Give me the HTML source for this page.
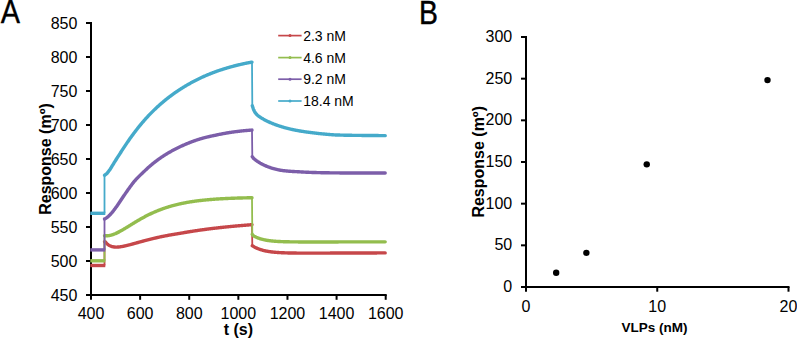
<!DOCTYPE html>
<html><head><meta charset="utf-8"><title>Binding response charts</title>
<style>html,body{margin:0;padding:0;background:#fff;}body{width:797px;height:339px;overflow:hidden;}svg{display:block;}</style>
</head><body>
<svg width="797" height="339" viewBox="0 0 797 339">
<rect width="797" height="339" fill="#fff"/>
<text x="0" y="23.3" font-family="'Liberation Sans', sans-serif" font-size="32.6" transform="translate(0.7,0) scale(0.885,1)" fill="#000" stroke="#000" stroke-width="0.35">A</text>
<text x="0" y="23.7" font-family="'Liberation Sans', sans-serif" font-size="32.8" transform="translate(419.0,0) scale(0.865,1)" fill="#000" stroke="#000" stroke-width="0.45">B</text>
<g stroke="#000" stroke-width="2" fill="none">
<path d="M91.0,22.0 V296.0"/>
<path d="M90.0,295.0 H386.7"/>
<path d="M86,23.00 H91.0"/>
<path d="M86,57.00 H91.0"/>
<path d="M86,91.00 H91.0"/>
<path d="M86,125.00 H91.0"/>
<path d="M86,159.00 H91.0"/>
<path d="M86,193.00 H91.0"/>
<path d="M86,227.00 H91.0"/>
<path d="M86,261.00 H91.0"/>
<path d="M86,295.00 H91.0"/>
<path d="M91.00,295.0 V299.8"/>
<path d="M140.12,295.0 V299.8"/>
<path d="M189.23,295.0 V299.8"/>
<path d="M238.35,295.0 V299.8"/>
<path d="M287.47,295.0 V299.8"/>
<path d="M336.58,295.0 V299.8"/>
<path d="M385.70,295.0 V299.8"/>
</g>
<g font-family="'Liberation Sans', sans-serif" font-size="16" fill="#000">
<text x="77.4" y="28.60" text-anchor="end">850</text>
<text x="77.4" y="62.60" text-anchor="end">800</text>
<text x="77.4" y="96.60" text-anchor="end">750</text>
<text x="77.4" y="130.60" text-anchor="end">700</text>
<text x="77.4" y="164.60" text-anchor="end">650</text>
<text x="77.4" y="198.60" text-anchor="end">600</text>
<text x="77.4" y="232.60" text-anchor="end">550</text>
<text x="77.4" y="266.60" text-anchor="end">500</text>
<text x="77.4" y="300.60" text-anchor="end">450</text>
<text x="91.00" y="318.7" text-anchor="middle">400</text>
<text x="140.12" y="318.7" text-anchor="middle">600</text>
<text x="189.23" y="318.7" text-anchor="middle">800</text>
<text x="238.35" y="318.7" text-anchor="middle">1000</text>
<text x="287.47" y="318.7" text-anchor="middle">1200</text>
<text x="336.58" y="318.7" text-anchor="middle">1400</text>
<text x="385.70" y="318.7" text-anchor="middle">1600</text>
</g>
<text x="238.3" y="335.3" font-family="'Liberation Sans', sans-serif" font-size="16" font-weight="bold" text-anchor="middle">t (s)</text>
<text transform="translate(51.1,159) rotate(-90)" font-family="'Liberation Sans', sans-serif" font-size="16" font-weight="bold" text-anchor="middle">Response (m&#186;)</text>
<path d="M104.50,265.50 L104.50,241.80 L105.00,241.81 L105.50,242.07 L106.00,242.66 L106.50,243.19 L107.00,243.68 L107.50,244.12 L108.00,244.53 L108.50,244.89 L109.00,245.22 L109.50,245.51 L110.00,245.77 L110.50,246.00 L111.00,246.20 L111.50,246.38 L112.00,246.54 L112.50,246.67 L113.00,246.78 L113.50,246.88 L114.00,246.95 L114.50,247.01 L115.00,247.05 L115.50,247.08 L116.00,247.09 L116.50,247.10 L117.00,247.09 L117.50,247.07 L118.00,247.04 L118.50,247.00 L119.00,246.95 L119.50,246.90 L120.00,246.84 L120.50,246.77 L121.00,246.69 L121.50,246.61 L122.00,246.53 L122.50,246.43 L123.00,246.34 L123.50,246.24 L124.00,246.14 L124.50,246.03 L125.00,245.92 L125.50,245.81 L126.00,245.69 L126.50,245.57 L127.00,245.45 L127.50,245.33 L128.00,245.21 L128.50,245.08 L129.00,244.95 L129.50,244.82 L130.00,244.70 L130.50,244.56 L131.00,244.42 L131.50,244.29 L132.00,244.15 L132.50,244.01 L133.00,243.87 L133.50,243.74 L134.00,243.60 L134.50,243.46 L135.00,243.32 L135.50,243.18 L136.00,243.04 L136.50,242.90 L137.00,242.76 L137.50,242.62 L138.00,242.49 L138.50,242.35 L139.00,242.21 L139.50,242.07 L140.00,241.94 L140.50,241.80 L141.00,241.66 L141.50,241.53 L142.00,241.39 L142.50,241.26 L143.00,241.12 L143.50,240.99 L144.00,240.86 L144.50,240.72 L145.00,240.59 L145.50,240.46 L146.00,240.33 L146.50,240.20 L147.00,240.07 L147.50,239.94 L148.00,239.81 L148.50,239.69 L149.00,239.56 L149.50,239.43 L150.00,239.31 L150.50,239.18 L151.00,239.06 L151.50,238.94 L152.00,238.81 L152.50,238.69 L153.00,238.57 L153.50,238.45 L154.00,238.33 L154.50,238.21 L155.00,238.09 L155.50,237.98 L156.00,237.86 L156.50,237.74 L157.00,237.63 L157.50,237.51 L158.00,237.40 L158.50,237.29 L159.00,237.17 L159.50,237.06 L160.00,236.95 L160.50,236.85 L161.00,236.74 L161.50,236.64 L162.00,236.54 L162.50,236.44 L163.00,236.34 L163.50,236.24 L164.00,236.15 L164.50,236.05 L165.00,235.95 L165.50,235.86 L166.00,235.76 L166.50,235.66 L167.00,235.57 L167.50,235.48 L168.00,235.38 L168.50,235.29 L169.00,235.20 L169.50,235.11 L170.00,235.02 L170.50,234.93 L171.00,234.84 L171.50,234.75 L172.00,234.67 L172.50,234.58 L173.00,234.49 L173.50,234.41 L174.00,234.32 L174.50,234.24 L175.00,234.15 L175.50,234.07 L176.00,233.99 L176.50,233.90 L177.00,233.82 L177.50,233.74 L178.00,233.66 L178.50,233.58 L179.00,233.50 L179.50,233.42 L180.00,233.34 L180.50,233.25 L181.00,233.16 L181.50,233.07 L182.00,232.99 L182.50,232.90 L183.00,232.81 L183.50,232.72 L184.00,232.63 L184.50,232.55 L185.00,232.46 L185.50,232.38 L186.00,232.29 L186.50,232.21 L187.00,232.12 L187.50,232.04 L188.00,231.96 L188.50,231.88 L189.00,231.80 L189.50,231.71 L190.00,231.63 L190.50,231.55 L191.00,231.47 L191.50,231.39 L192.00,231.32 L192.50,231.24 L193.00,231.16 L193.50,231.08 L194.00,231.01 L194.50,230.93 L195.00,230.85 L195.50,230.78 L196.00,230.70 L196.50,230.63 L197.00,230.56 L197.50,230.48 L198.00,230.41 L198.50,230.34 L199.00,230.27 L199.50,230.19 L200.00,230.12 L200.50,230.05 L201.00,229.98 L201.50,229.91 L202.00,229.84 L202.50,229.77 L203.00,229.71 L203.50,229.64 L204.00,229.57 L204.50,229.50 L205.00,229.44 L205.50,229.37 L206.00,229.30 L206.50,229.24 L207.00,229.17 L207.50,229.11 L208.00,229.04 L208.50,228.98 L209.00,228.92 L209.50,228.85 L210.00,228.79 L210.50,228.73 L211.00,228.67 L211.50,228.60 L212.00,228.54 L212.50,228.48 L213.00,228.42 L213.50,228.36 L214.00,228.30 L214.50,228.24 L215.00,228.18 L215.50,228.12 L216.00,228.07 L216.50,228.01 L217.00,227.95 L217.50,227.89 L218.00,227.84 L218.50,227.78 L219.00,227.72 L219.50,227.67 L220.00,227.61 L220.50,227.56 L221.00,227.50 L221.50,227.45 L222.00,227.40 L222.50,227.34 L223.00,227.29 L223.50,227.24 L224.00,227.18 L224.50,227.13 L225.00,227.08 L225.50,227.03 L226.00,226.97 L226.50,226.92 L227.00,226.87 L227.50,226.82 L228.00,226.77 L228.50,226.72 L229.00,226.67 L229.50,226.62 L230.00,226.57 L230.50,226.53 L231.00,226.48 L231.50,226.43 L232.00,226.38 L232.50,226.33 L233.00,226.29 L233.50,226.24 L234.00,226.19 L234.50,226.15 L235.00,226.10 L235.50,226.06 L236.00,226.01 L236.50,225.97 L237.00,225.92 L237.50,225.88 L238.00,225.83 L238.50,225.79 L239.00,225.74 L239.50,225.70 L240.00,225.66 L240.50,225.61 L241.00,225.57 L241.50,225.53 L242.00,225.49 L242.50,225.45 L243.00,225.40 L243.50,225.36 L244.00,225.32 L244.50,225.28 L245.00,225.24 L245.50,225.20 L246.00,225.16 L246.50,225.12 L247.00,225.08 L247.50,225.04 L248.00,225.00 L248.50,224.96 L249.00,224.92 L249.50,224.89 L250.00,224.85 L250.50,224.81 L251.00,224.77 L251.50,224.73 L252.00,224.70 L252.30,245.75 L252.80,246.00 L253.30,246.31 L253.80,246.60 L254.30,246.89 L254.80,247.16 L255.30,247.42 L255.80,247.67 L256.30,247.91 L256.80,248.14 L257.30,248.37 L257.80,248.58 L258.30,248.78 L258.80,248.98 L259.30,249.16 L259.80,249.34 L260.30,249.52 L260.80,249.68 L261.30,249.84 L261.80,249.99 L262.30,250.13 L262.80,250.27 L263.30,250.40 L263.80,250.53 L264.30,250.65 L264.80,250.77 L265.30,250.88 L265.80,250.98 L266.30,251.08 L266.80,251.18 L267.30,251.27 L267.80,251.36 L268.30,251.45 L268.80,251.53 L269.30,251.60 L269.80,251.68 L270.30,251.75 L270.80,251.81 L271.30,251.88 L271.80,251.94 L272.30,252.00 L272.80,252.05 L273.30,252.11 L273.80,252.16 L274.30,252.21 L274.80,252.25 L275.30,252.30 L275.80,252.34 L276.30,252.38 L276.80,252.42 L277.30,252.45 L277.80,252.49 L278.30,252.52 L278.80,252.55 L279.30,252.58 L279.80,252.61 L280.30,252.64 L280.80,252.67 L281.30,252.69 L281.80,252.71 L282.30,252.74 L282.80,252.76 L283.30,252.78 L283.80,252.80 L284.30,252.82 L284.80,252.84 L285.30,252.85 L285.80,252.87 L286.30,252.88 L286.80,252.90 L287.30,252.91 L287.80,252.93 L288.30,252.94 L288.80,252.95 L289.30,252.96 L289.80,252.97 L290.30,252.98 L290.80,252.99 L291.30,253.00 L291.80,253.01 L292.30,253.02 L292.80,253.03 L293.30,253.03 L293.80,253.04 L294.30,253.05 L294.80,253.06 L295.30,253.06 L295.80,253.07 L296.30,253.07 L296.80,253.08 L297.30,253.08 L297.80,253.09 L298.30,253.09 L298.80,253.10 L299.30,253.10 L299.80,253.10 L300.30,253.10 L300.80,253.10 L301.30,253.11 L301.80,253.11 L302.30,253.11 L302.80,253.11 L303.30,253.11 L303.80,253.11 L304.30,253.11 L304.80,253.12 L305.30,253.12 L305.80,253.12 L306.30,253.12 L306.80,253.12 L307.30,253.12 L307.80,253.12 L308.30,253.12 L308.80,253.12 L309.30,253.12 L309.80,253.12 L310.30,253.12 L310.80,253.12 L311.30,253.12 L311.80,253.12 L312.30,253.12 L312.80,253.11 L313.30,253.11 L313.80,253.11 L314.30,253.11 L314.80,253.11 L315.30,253.11 L315.80,253.11 L316.30,253.11 L316.80,253.11 L317.30,253.11 L317.80,253.11 L318.30,253.11 L318.80,253.10 L319.30,253.10 L319.80,253.10 L320.30,253.10 L320.80,253.10 L321.30,253.10 L321.80,253.10 L322.30,253.10 L322.80,253.10 L323.30,253.09 L323.80,253.09 L324.30,253.09 L324.80,253.09 L325.30,253.09 L325.80,253.09 L326.30,253.09 L326.80,253.08 L327.30,253.08 L327.80,253.08 L328.30,253.08 L328.80,253.08 L329.30,253.08 L329.80,253.08 L330.30,253.07 L330.80,253.07 L331.30,253.07 L331.80,253.07 L332.30,253.07 L332.80,253.07 L333.30,253.07 L333.80,253.06 L334.30,253.06 L334.80,253.06 L335.30,253.06 L335.80,253.06 L336.30,253.06 L336.80,253.06 L337.30,253.05 L337.80,253.05 L338.30,253.05 L338.80,253.05 L339.30,253.05 L339.80,253.05 L340.30,253.04 L340.80,253.04 L341.30,253.04 L341.80,253.04 L342.30,253.04 L342.80,253.04 L343.30,253.03 L343.80,253.03 L344.30,253.03 L344.80,253.03 L345.30,253.03 L345.80,253.03 L346.30,253.03 L346.80,253.02 L347.30,253.02 L347.80,253.02 L348.30,253.02 L348.80,253.02 L349.30,253.02 L349.80,253.01 L350.30,253.01 L350.80,253.01 L351.30,253.01 L351.80,253.01 L352.30,253.01 L352.80,253.00 L353.30,253.00 L353.80,253.00 L354.30,253.00 L354.80,253.00 L355.30,253.00 L355.80,252.99 L356.30,252.99 L356.80,252.99 L357.30,252.99 L357.80,252.99 L358.30,252.99 L358.80,252.98 L359.30,252.98 L359.80,252.98 L360.30,252.98 L360.80,252.98 L361.30,252.98 L361.80,252.98 L362.30,252.97 L362.80,252.97 L363.30,252.97 L363.80,252.97 L364.30,252.97 L364.80,252.97 L365.30,252.96 L365.80,252.96 L366.30,252.96 L366.80,252.96 L367.30,252.96 L367.80,252.96 L368.30,252.95 L368.80,252.95 L369.30,252.95 L369.80,252.95 L370.30,252.95 L370.80,252.95 L371.30,252.94 L371.80,252.94 L372.30,252.94 L372.80,252.94 L373.30,252.94 L373.80,252.94 L374.30,252.93 L374.80,252.93 L375.30,252.93 L375.80,252.93 L376.30,252.93 L376.80,252.93 L377.30,252.92 L377.80,252.92 L378.30,252.92 L378.80,252.92 L379.30,252.92 L379.80,252.92 L380.30,252.91 L380.80,252.91 L381.30,252.91 L381.80,252.91 L382.30,252.91 L382.80,252.91 L383.30,252.91 L383.80,252.90 L384.30,252.90 L384.80,252.90 L385.20,252.90" fill="none" stroke="#C6474A" stroke-width="1.8" stroke-linejoin="round"/>
<path d="M90.30,265.50 L105.30,265.50" fill="none" stroke="#C6474A" stroke-width="3.4" stroke-linejoin="round" stroke-linecap="butt"/>
<path d="M104.50,241.80 L105.00,241.81 L105.50,242.07 L106.00,242.66 L106.50,243.19 L107.00,243.68 L107.50,244.12 L108.00,244.53 L108.50,244.89 L109.00,245.22 L109.50,245.51 L110.00,245.77 L110.50,246.00 L111.00,246.20 L111.50,246.38 L112.00,246.54 L112.50,246.67 L113.00,246.78 L113.50,246.88 L114.00,246.95 L114.50,247.01 L115.00,247.05 L115.50,247.08 L116.00,247.09 L116.50,247.10 L117.00,247.09 L117.50,247.07 L118.00,247.04 L118.50,247.00 L119.00,246.95 L119.50,246.90 L120.00,246.84 L120.50,246.77 L121.00,246.69 L121.50,246.61 L122.00,246.53 L122.50,246.43 L123.00,246.34 L123.50,246.24 L124.00,246.14 L124.50,246.03 L125.00,245.92 L125.50,245.81 L126.00,245.69 L126.50,245.57 L127.00,245.45 L127.50,245.33 L128.00,245.21 L128.50,245.08 L129.00,244.95 L129.50,244.82 L130.00,244.70 L130.50,244.56 L131.00,244.42 L131.50,244.29 L132.00,244.15 L132.50,244.01 L133.00,243.87 L133.50,243.74 L134.00,243.60 L134.50,243.46 L135.00,243.32 L135.50,243.18 L136.00,243.04 L136.50,242.90 L137.00,242.76 L137.50,242.62 L138.00,242.49 L138.50,242.35 L139.00,242.21 L139.50,242.07 L140.00,241.94 L140.50,241.80 L141.00,241.66 L141.50,241.53 L142.00,241.39 L142.50,241.26 L143.00,241.12 L143.50,240.99 L144.00,240.86 L144.50,240.72 L145.00,240.59 L145.50,240.46 L146.00,240.33 L146.50,240.20 L147.00,240.07 L147.50,239.94 L148.00,239.81 L148.50,239.69 L149.00,239.56 L149.50,239.43 L150.00,239.31 L150.50,239.18 L151.00,239.06 L151.50,238.94 L152.00,238.81 L152.50,238.69 L153.00,238.57 L153.50,238.45 L154.00,238.33 L154.50,238.21 L155.00,238.09 L155.50,237.98 L156.00,237.86 L156.50,237.74 L157.00,237.63 L157.50,237.51 L158.00,237.40 L158.50,237.29 L159.00,237.17 L159.50,237.06 L160.00,236.95 L160.50,236.85 L161.00,236.74 L161.50,236.64 L162.00,236.54 L162.50,236.44 L163.00,236.34 L163.50,236.24 L164.00,236.15 L164.50,236.05 L165.00,235.95 L165.50,235.86 L166.00,235.76 L166.50,235.66 L167.00,235.57 L167.50,235.48 L168.00,235.38 L168.50,235.29 L169.00,235.20 L169.50,235.11 L170.00,235.02 L170.50,234.93 L171.00,234.84 L171.50,234.75 L172.00,234.67 L172.50,234.58 L173.00,234.49 L173.50,234.41 L174.00,234.32 L174.50,234.24 L175.00,234.15 L175.50,234.07 L176.00,233.99 L176.50,233.90 L177.00,233.82 L177.50,233.74 L178.00,233.66 L178.50,233.58 L179.00,233.50 L179.50,233.42 L180.00,233.34 L180.50,233.25 L181.00,233.16 L181.50,233.07 L182.00,232.99 L182.50,232.90 L183.00,232.81 L183.50,232.72 L184.00,232.63 L184.50,232.55 L185.00,232.46 L185.50,232.38 L186.00,232.29 L186.50,232.21 L187.00,232.12 L187.50,232.04 L188.00,231.96 L188.50,231.88 L189.00,231.80 L189.50,231.71 L190.00,231.63 L190.50,231.55 L191.00,231.47 L191.50,231.39 L192.00,231.32 L192.50,231.24 L193.00,231.16 L193.50,231.08 L194.00,231.01 L194.50,230.93 L195.00,230.85 L195.50,230.78 L196.00,230.70 L196.50,230.63 L197.00,230.56 L197.50,230.48 L198.00,230.41 L198.50,230.34 L199.00,230.27 L199.50,230.19 L200.00,230.12 L200.50,230.05 L201.00,229.98 L201.50,229.91 L202.00,229.84 L202.50,229.77 L203.00,229.71 L203.50,229.64 L204.00,229.57 L204.50,229.50 L205.00,229.44 L205.50,229.37 L206.00,229.30 L206.50,229.24 L207.00,229.17 L207.50,229.11 L208.00,229.04 L208.50,228.98 L209.00,228.92 L209.50,228.85 L210.00,228.79 L210.50,228.73 L211.00,228.67 L211.50,228.60 L212.00,228.54 L212.50,228.48 L213.00,228.42 L213.50,228.36 L214.00,228.30 L214.50,228.24 L215.00,228.18 L215.50,228.12 L216.00,228.07 L216.50,228.01 L217.00,227.95 L217.50,227.89 L218.00,227.84 L218.50,227.78 L219.00,227.72 L219.50,227.67 L220.00,227.61 L220.50,227.56 L221.00,227.50 L221.50,227.45 L222.00,227.40 L222.50,227.34 L223.00,227.29 L223.50,227.24 L224.00,227.18 L224.50,227.13 L225.00,227.08 L225.50,227.03 L226.00,226.97 L226.50,226.92 L227.00,226.87 L227.50,226.82 L228.00,226.77 L228.50,226.72 L229.00,226.67 L229.50,226.62 L230.00,226.57 L230.50,226.53 L231.00,226.48 L231.50,226.43 L232.00,226.38 L232.50,226.33 L233.00,226.29 L233.50,226.24 L234.00,226.19 L234.50,226.15 L235.00,226.10 L235.50,226.06 L236.00,226.01 L236.50,225.97 L237.00,225.92 L237.50,225.88 L238.00,225.83 L238.50,225.79 L239.00,225.74 L239.50,225.70 L240.00,225.66 L240.50,225.61 L241.00,225.57 L241.50,225.53 L242.00,225.49 L242.50,225.45 L243.00,225.40 L243.50,225.36 L244.00,225.32 L244.50,225.28 L245.00,225.24 L245.50,225.20 L246.00,225.16 L246.50,225.12 L247.00,225.08 L247.50,225.04 L248.00,225.00 L248.50,224.96 L249.00,224.92 L249.50,224.89 L250.00,224.85 L250.50,224.81 L251.00,224.77 L251.50,224.73 L252.00,224.70" fill="none" stroke="#C6474A" stroke-width="3.4" stroke-linejoin="round" stroke-linecap="round"/>
<path d="M252.30,245.75 L252.80,246.00 L253.30,246.31 L253.80,246.60 L254.30,246.89 L254.80,247.16 L255.30,247.42 L255.80,247.67 L256.30,247.91 L256.80,248.14 L257.30,248.37 L257.80,248.58 L258.30,248.78 L258.80,248.98 L259.30,249.16 L259.80,249.34 L260.30,249.52 L260.80,249.68 L261.30,249.84 L261.80,249.99 L262.30,250.13 L262.80,250.27 L263.30,250.40 L263.80,250.53 L264.30,250.65 L264.80,250.77 L265.30,250.88 L265.80,250.98 L266.30,251.08 L266.80,251.18 L267.30,251.27 L267.80,251.36 L268.30,251.45 L268.80,251.53 L269.30,251.60 L269.80,251.68 L270.30,251.75 L270.80,251.81 L271.30,251.88 L271.80,251.94 L272.30,252.00 L272.80,252.05 L273.30,252.11 L273.80,252.16 L274.30,252.21 L274.80,252.25 L275.30,252.30 L275.80,252.34 L276.30,252.38 L276.80,252.42 L277.30,252.45 L277.80,252.49 L278.30,252.52 L278.80,252.55 L279.30,252.58 L279.80,252.61 L280.30,252.64 L280.80,252.67 L281.30,252.69 L281.80,252.71 L282.30,252.74 L282.80,252.76 L283.30,252.78 L283.80,252.80 L284.30,252.82 L284.80,252.84 L285.30,252.85 L285.80,252.87 L286.30,252.88 L286.80,252.90 L287.30,252.91 L287.80,252.93 L288.30,252.94 L288.80,252.95 L289.30,252.96 L289.80,252.97 L290.30,252.98 L290.80,252.99 L291.30,253.00 L291.80,253.01 L292.30,253.02 L292.80,253.03 L293.30,253.03 L293.80,253.04 L294.30,253.05 L294.80,253.06 L295.30,253.06 L295.80,253.07 L296.30,253.07 L296.80,253.08 L297.30,253.08 L297.80,253.09 L298.30,253.09 L298.80,253.10 L299.30,253.10 L299.80,253.10 L300.30,253.10 L300.80,253.10 L301.30,253.11 L301.80,253.11 L302.30,253.11 L302.80,253.11 L303.30,253.11 L303.80,253.11 L304.30,253.11 L304.80,253.12 L305.30,253.12 L305.80,253.12 L306.30,253.12 L306.80,253.12 L307.30,253.12 L307.80,253.12 L308.30,253.12 L308.80,253.12 L309.30,253.12 L309.80,253.12 L310.30,253.12 L310.80,253.12 L311.30,253.12 L311.80,253.12 L312.30,253.12 L312.80,253.11 L313.30,253.11 L313.80,253.11 L314.30,253.11 L314.80,253.11 L315.30,253.11 L315.80,253.11 L316.30,253.11 L316.80,253.11 L317.30,253.11 L317.80,253.11 L318.30,253.11 L318.80,253.10 L319.30,253.10 L319.80,253.10 L320.30,253.10 L320.80,253.10 L321.30,253.10 L321.80,253.10 L322.30,253.10 L322.80,253.10 L323.30,253.09 L323.80,253.09 L324.30,253.09 L324.80,253.09 L325.30,253.09 L325.80,253.09 L326.30,253.09 L326.80,253.08 L327.30,253.08 L327.80,253.08 L328.30,253.08 L328.80,253.08 L329.30,253.08 L329.80,253.08 L330.30,253.07 L330.80,253.07 L331.30,253.07 L331.80,253.07 L332.30,253.07 L332.80,253.07 L333.30,253.07 L333.80,253.06 L334.30,253.06 L334.80,253.06 L335.30,253.06 L335.80,253.06 L336.30,253.06 L336.80,253.06 L337.30,253.05 L337.80,253.05 L338.30,253.05 L338.80,253.05 L339.30,253.05 L339.80,253.05 L340.30,253.04 L340.80,253.04 L341.30,253.04 L341.80,253.04 L342.30,253.04 L342.80,253.04 L343.30,253.03 L343.80,253.03 L344.30,253.03 L344.80,253.03 L345.30,253.03 L345.80,253.03 L346.30,253.03 L346.80,253.02 L347.30,253.02 L347.80,253.02 L348.30,253.02 L348.80,253.02 L349.30,253.02 L349.80,253.01 L350.30,253.01 L350.80,253.01 L351.30,253.01 L351.80,253.01 L352.30,253.01 L352.80,253.00 L353.30,253.00 L353.80,253.00 L354.30,253.00 L354.80,253.00 L355.30,253.00 L355.80,252.99 L356.30,252.99 L356.80,252.99 L357.30,252.99 L357.80,252.99 L358.30,252.99 L358.80,252.98 L359.30,252.98 L359.80,252.98 L360.30,252.98 L360.80,252.98 L361.30,252.98 L361.80,252.98 L362.30,252.97 L362.80,252.97 L363.30,252.97 L363.80,252.97 L364.30,252.97 L364.80,252.97 L365.30,252.96 L365.80,252.96 L366.30,252.96 L366.80,252.96 L367.30,252.96 L367.80,252.96 L368.30,252.95 L368.80,252.95 L369.30,252.95 L369.80,252.95 L370.30,252.95 L370.80,252.95 L371.30,252.94 L371.80,252.94 L372.30,252.94 L372.80,252.94 L373.30,252.94 L373.80,252.94 L374.30,252.93 L374.80,252.93 L375.30,252.93 L375.80,252.93 L376.30,252.93 L376.80,252.93 L377.30,252.92 L377.80,252.92 L378.30,252.92 L378.80,252.92 L379.30,252.92 L379.80,252.92 L380.30,252.91 L380.80,252.91 L381.30,252.91 L381.80,252.91 L382.30,252.91 L382.80,252.91 L383.30,252.91 L383.80,252.90 L384.30,252.90 L384.80,252.90 L385.20,252.90" fill="none" stroke="#C6474A" stroke-width="3.4" stroke-linejoin="round" stroke-linecap="round"/>
<path d="M104.50,260.80 L104.50,235.67 L105.00,235.67 L105.50,235.70 L106.00,235.74 L106.50,235.76 L107.00,235.76 L107.50,235.74 L108.00,235.70 L108.50,235.65 L109.00,235.58 L109.50,235.50 L110.00,235.40 L110.50,235.29 L111.00,235.17 L111.50,235.04 L112.00,234.89 L112.50,234.73 L113.00,234.56 L113.50,234.38 L114.00,234.19 L114.50,233.99 L115.00,233.79 L115.50,233.57 L116.00,233.35 L116.50,233.12 L117.00,232.88 L117.50,232.64 L118.00,232.39 L118.50,232.14 L119.00,231.88 L119.50,231.61 L120.00,231.34 L120.50,231.07 L121.00,230.79 L121.50,230.51 L122.00,230.22 L122.50,229.94 L123.00,229.65 L123.50,229.35 L124.00,229.06 L124.50,228.76 L125.00,228.46 L125.50,228.16 L126.00,227.86 L126.50,227.55 L127.00,227.25 L127.50,226.94 L128.00,226.64 L128.50,226.33 L129.00,226.02 L129.50,225.72 L130.00,225.41 L130.50,225.10 L131.00,224.79 L131.50,224.48 L132.00,224.17 L132.50,223.86 L133.00,223.55 L133.50,223.25 L134.00,222.94 L134.50,222.63 L135.00,222.33 L135.50,222.03 L136.00,221.73 L136.50,221.43 L137.00,221.13 L137.50,220.83 L138.00,220.54 L138.50,220.24 L139.00,219.95 L139.50,219.66 L140.00,219.38 L140.50,219.09 L141.00,218.81 L141.50,218.53 L142.00,218.25 L142.50,217.97 L143.00,217.70 L143.50,217.42 L144.00,217.15 L144.50,216.89 L145.00,216.62 L145.50,216.36 L146.00,216.10 L146.50,215.84 L147.00,215.58 L147.50,215.33 L148.00,215.08 L148.50,214.83 L149.00,214.59 L149.50,214.34 L150.00,214.10 L150.50,213.86 L151.00,213.63 L151.50,213.39 L152.00,213.16 L152.50,212.94 L153.00,212.71 L153.50,212.49 L154.00,212.27 L154.50,212.05 L155.00,211.83 L155.50,211.62 L156.00,211.41 L156.50,211.20 L157.00,210.99 L157.50,210.79 L158.00,210.59 L158.50,210.39 L159.00,210.20 L159.50,210.00 L160.00,209.81 L160.50,209.62 L161.00,209.43 L161.50,209.25 L162.00,209.06 L162.50,208.88 L163.00,208.70 L163.50,208.52 L164.00,208.35 L164.50,208.17 L165.00,208.00 L165.50,207.83 L166.00,207.67 L166.50,207.50 L167.00,207.34 L167.50,207.18 L168.00,207.03 L168.50,206.87 L169.00,206.72 L169.50,206.57 L170.00,206.42 L170.50,206.27 L171.00,206.13 L171.50,205.98 L172.00,205.84 L172.50,205.70 L173.00,205.57 L173.50,205.43 L174.00,205.30 L174.50,205.17 L175.00,205.04 L175.50,204.91 L176.00,204.79 L176.50,204.66 L177.00,204.54 L177.50,204.42 L178.00,204.30 L178.50,204.19 L179.00,204.07 L179.50,203.96 L180.00,203.85 L180.50,203.74 L181.00,203.63 L181.50,203.52 L182.00,203.42 L182.50,203.31 L183.00,203.21 L183.50,203.11 L184.00,203.01 L184.50,202.92 L185.00,202.82 L185.50,202.73 L186.00,202.63 L186.50,202.54 L187.00,202.45 L187.50,202.36 L188.00,202.28 L188.50,202.19 L189.00,202.11 L189.50,202.02 L190.00,201.94 L190.50,201.86 L191.00,201.78 L191.50,201.71 L192.00,201.63 L192.50,201.55 L193.00,201.48 L193.50,201.41 L194.00,201.33 L194.50,201.26 L195.00,201.19 L195.50,201.12 L196.00,201.06 L196.50,200.99 L197.00,200.93 L197.50,200.86 L198.00,200.80 L198.50,200.74 L199.00,200.68 L199.50,200.62 L200.00,200.56 L200.50,200.50 L201.00,200.44 L201.50,200.38 L202.00,200.33 L202.50,200.27 L203.00,200.22 L203.50,200.17 L204.00,200.12 L204.50,200.07 L205.00,200.02 L205.50,199.97 L206.00,199.92 L206.50,199.87 L207.00,199.82 L207.50,199.78 L208.00,199.73 L208.50,199.69 L209.00,199.64 L209.50,199.60 L210.00,199.56 L210.50,199.52 L211.00,199.48 L211.50,199.44 L212.00,199.40 L212.50,199.36 L213.00,199.32 L213.50,199.28 L214.00,199.25 L214.50,199.21 L215.00,199.17 L215.50,199.14 L216.00,199.10 L216.50,199.07 L217.00,199.04 L217.50,199.00 L218.00,198.97 L218.50,198.94 L219.00,198.91 L219.50,198.88 L220.00,198.85 L220.50,198.82 L221.00,198.79 L221.50,198.76 L222.00,198.73 L222.50,198.71 L223.00,198.68 L223.50,198.65 L224.00,198.63 L224.50,198.60 L225.00,198.58 L225.50,198.55 L226.00,198.53 L226.50,198.50 L227.00,198.48 L227.50,198.46 L228.00,198.44 L228.50,198.41 L229.00,198.39 L229.50,198.37 L230.00,198.35 L230.50,198.33 L231.00,198.31 L231.50,198.29 L232.00,198.27 L232.50,198.25 L233.00,198.23 L233.50,198.21 L234.00,198.19 L234.50,198.18 L235.00,198.16 L235.50,198.14 L236.00,198.12 L236.50,198.11 L237.00,198.09 L237.50,198.07 L238.00,198.06 L238.50,198.04 L239.00,198.03 L239.50,198.01 L240.00,198.00 L240.50,197.98 L241.00,197.97 L241.50,197.96 L242.00,197.94 L242.50,197.93 L243.00,197.92 L243.50,197.90 L244.00,197.89 L244.50,197.88 L245.00,197.87 L245.50,197.85 L246.00,197.84 L246.50,197.83 L247.00,197.82 L247.50,197.81 L248.00,197.80 L248.50,197.79 L249.00,197.77 L249.50,197.76 L250.00,197.75 L250.50,197.74 L251.00,197.73 L251.50,197.72 L252.00,197.72 L252.30,234.40 L252.80,235.10 L253.30,235.64 L253.80,235.94 L254.30,236.23 L254.80,236.50 L255.30,236.76 L255.80,237.01 L256.30,237.25 L256.80,237.47 L257.30,237.68 L257.80,237.89 L258.30,238.08 L258.80,238.27 L259.30,238.45 L259.80,238.62 L260.30,238.78 L260.80,238.93 L261.30,239.08 L261.80,239.21 L262.30,239.35 L262.80,239.47 L263.30,239.59 L263.80,239.71 L264.30,239.82 L264.80,239.92 L265.30,240.02 L265.80,240.12 L266.30,240.21 L266.80,240.29 L267.30,240.38 L267.80,240.45 L268.30,240.53 L268.80,240.60 L269.30,240.67 L269.80,240.73 L270.30,240.79 L270.80,240.85 L271.30,240.91 L271.80,240.96 L272.30,241.01 L272.80,241.06 L273.30,241.11 L273.80,241.15 L274.30,241.19 L274.80,241.23 L275.30,241.27 L275.80,241.30 L276.30,241.34 L276.80,241.37 L277.30,241.40 L277.80,241.43 L278.30,241.46 L278.80,241.49 L279.30,241.51 L279.80,241.54 L280.30,241.56 L280.80,241.58 L281.30,241.60 L281.80,241.62 L282.30,241.64 L282.80,241.66 L283.30,241.68 L283.80,241.69 L284.30,241.71 L284.80,241.72 L285.30,241.74 L285.80,241.75 L286.30,241.76 L286.80,241.77 L287.30,241.78 L287.80,241.80 L288.30,241.81 L288.80,241.82 L289.30,241.82 L289.80,241.83 L290.30,241.84 L290.80,241.85 L291.30,241.86 L291.80,241.86 L292.30,241.87 L292.80,241.88 L293.30,241.88 L293.80,241.89 L294.30,241.89 L294.80,241.90 L295.30,241.90 L295.80,241.91 L296.30,241.91 L296.80,241.92 L297.30,241.92 L297.80,241.92 L298.30,241.93 L298.80,241.93 L299.30,241.93 L299.80,241.93 L300.30,241.94 L300.80,241.94 L301.30,241.94 L301.80,241.94 L302.30,241.95 L302.80,241.95 L303.30,241.95 L303.80,241.95 L304.30,241.95 L304.80,241.95 L305.30,241.95 L305.80,241.95 L306.30,241.96 L306.80,241.96 L307.30,241.96 L307.80,241.96 L308.30,241.96 L308.80,241.96 L309.30,241.96 L309.80,241.96 L310.30,241.96 L310.80,241.96 L311.30,241.96 L311.80,241.96 L312.30,241.96 L312.80,241.96 L313.30,241.96 L313.80,241.96 L314.30,241.96 L314.80,241.96 L315.30,241.96 L315.80,241.96 L316.30,241.96 L316.80,241.96 L317.30,241.96 L317.80,241.96 L318.30,241.96 L318.80,241.96 L319.30,241.96 L319.80,241.96 L320.30,241.96 L320.80,241.96 L321.30,241.95 L321.80,241.95 L322.30,241.95 L322.80,241.95 L323.30,241.95 L323.80,241.95 L324.30,241.95 L324.80,241.95 L325.30,241.95 L325.80,241.95 L326.30,241.95 L326.80,241.95 L327.30,241.95 L327.80,241.95 L328.30,241.94 L328.80,241.94 L329.30,241.94 L329.80,241.94 L330.30,241.94 L330.80,241.94 L331.30,241.94 L331.80,241.94 L332.30,241.94 L332.80,241.94 L333.30,241.94 L333.80,241.93 L334.30,241.93 L334.80,241.93 L335.30,241.93 L335.80,241.93 L336.30,241.93 L336.80,241.93 L337.30,241.93 L337.80,241.93 L338.30,241.93 L338.80,241.92 L339.30,241.92 L339.80,241.92 L340.30,241.92 L340.80,241.92 L341.30,241.92 L341.80,241.92 L342.30,241.92 L342.80,241.92 L343.30,241.92 L343.80,241.91 L344.30,241.91 L344.80,241.91 L345.30,241.91 L345.80,241.91 L346.30,241.91 L346.80,241.91 L347.30,241.91 L347.80,241.91 L348.30,241.91 L348.80,241.90 L349.30,241.90 L349.80,241.90 L350.30,241.90 L350.80,241.90 L351.30,241.90 L351.80,241.90 L352.30,241.90 L352.80,241.90 L353.30,241.89 L353.80,241.89 L354.30,241.89 L354.80,241.89 L355.30,241.89 L355.80,241.89 L356.30,241.89 L356.80,241.89 L357.30,241.89 L357.80,241.89 L358.30,241.88 L358.80,241.88 L359.30,241.88 L359.80,241.88 L360.30,241.88 L360.80,241.88 L361.30,241.88 L361.80,241.88 L362.30,241.88 L362.80,241.87 L363.30,241.87 L363.80,241.87 L364.30,241.87 L364.80,241.87 L365.30,241.87 L365.80,241.87 L366.30,241.87 L366.80,241.87 L367.30,241.86 L367.80,241.86 L368.30,241.86 L368.80,241.86 L369.30,241.86 L369.80,241.86 L370.30,241.86 L370.80,241.86 L371.30,241.86 L371.80,241.85 L372.30,241.85 L372.80,241.85 L373.30,241.85 L373.80,241.85 L374.30,241.85 L374.80,241.85 L375.30,241.85 L375.80,241.85 L376.30,241.85 L376.80,241.84 L377.30,241.84 L377.80,241.84 L378.30,241.84 L378.80,241.84 L379.30,241.84 L379.80,241.84 L380.30,241.84 L380.80,241.84 L381.30,241.83 L381.80,241.83 L382.30,241.83 L382.80,241.83 L383.30,241.83 L383.80,241.83 L384.30,241.83 L384.80,241.83 L385.20,241.83" fill="none" stroke="#93BD4E" stroke-width="1.8" stroke-linejoin="round"/>
<path d="M90.30,260.80 L105.30,260.80" fill="none" stroke="#93BD4E" stroke-width="3.4" stroke-linejoin="round" stroke-linecap="butt"/>
<path d="M104.50,235.67 L105.00,235.67 L105.50,235.70 L106.00,235.74 L106.50,235.76 L107.00,235.76 L107.50,235.74 L108.00,235.70 L108.50,235.65 L109.00,235.58 L109.50,235.50 L110.00,235.40 L110.50,235.29 L111.00,235.17 L111.50,235.04 L112.00,234.89 L112.50,234.73 L113.00,234.56 L113.50,234.38 L114.00,234.19 L114.50,233.99 L115.00,233.79 L115.50,233.57 L116.00,233.35 L116.50,233.12 L117.00,232.88 L117.50,232.64 L118.00,232.39 L118.50,232.14 L119.00,231.88 L119.50,231.61 L120.00,231.34 L120.50,231.07 L121.00,230.79 L121.50,230.51 L122.00,230.22 L122.50,229.94 L123.00,229.65 L123.50,229.35 L124.00,229.06 L124.50,228.76 L125.00,228.46 L125.50,228.16 L126.00,227.86 L126.50,227.55 L127.00,227.25 L127.50,226.94 L128.00,226.64 L128.50,226.33 L129.00,226.02 L129.50,225.72 L130.00,225.41 L130.50,225.10 L131.00,224.79 L131.50,224.48 L132.00,224.17 L132.50,223.86 L133.00,223.55 L133.50,223.25 L134.00,222.94 L134.50,222.63 L135.00,222.33 L135.50,222.03 L136.00,221.73 L136.50,221.43 L137.00,221.13 L137.50,220.83 L138.00,220.54 L138.50,220.24 L139.00,219.95 L139.50,219.66 L140.00,219.38 L140.50,219.09 L141.00,218.81 L141.50,218.53 L142.00,218.25 L142.50,217.97 L143.00,217.70 L143.50,217.42 L144.00,217.15 L144.50,216.89 L145.00,216.62 L145.50,216.36 L146.00,216.10 L146.50,215.84 L147.00,215.58 L147.50,215.33 L148.00,215.08 L148.50,214.83 L149.00,214.59 L149.50,214.34 L150.00,214.10 L150.50,213.86 L151.00,213.63 L151.50,213.39 L152.00,213.16 L152.50,212.94 L153.00,212.71 L153.50,212.49 L154.00,212.27 L154.50,212.05 L155.00,211.83 L155.50,211.62 L156.00,211.41 L156.50,211.20 L157.00,210.99 L157.50,210.79 L158.00,210.59 L158.50,210.39 L159.00,210.20 L159.50,210.00 L160.00,209.81 L160.50,209.62 L161.00,209.43 L161.50,209.25 L162.00,209.06 L162.50,208.88 L163.00,208.70 L163.50,208.52 L164.00,208.35 L164.50,208.17 L165.00,208.00 L165.50,207.83 L166.00,207.67 L166.50,207.50 L167.00,207.34 L167.50,207.18 L168.00,207.03 L168.50,206.87 L169.00,206.72 L169.50,206.57 L170.00,206.42 L170.50,206.27 L171.00,206.13 L171.50,205.98 L172.00,205.84 L172.50,205.70 L173.00,205.57 L173.50,205.43 L174.00,205.30 L174.50,205.17 L175.00,205.04 L175.50,204.91 L176.00,204.79 L176.50,204.66 L177.00,204.54 L177.50,204.42 L178.00,204.30 L178.50,204.19 L179.00,204.07 L179.50,203.96 L180.00,203.85 L180.50,203.74 L181.00,203.63 L181.50,203.52 L182.00,203.42 L182.50,203.31 L183.00,203.21 L183.50,203.11 L184.00,203.01 L184.50,202.92 L185.00,202.82 L185.50,202.73 L186.00,202.63 L186.50,202.54 L187.00,202.45 L187.50,202.36 L188.00,202.28 L188.50,202.19 L189.00,202.11 L189.50,202.02 L190.00,201.94 L190.50,201.86 L191.00,201.78 L191.50,201.71 L192.00,201.63 L192.50,201.55 L193.00,201.48 L193.50,201.41 L194.00,201.33 L194.50,201.26 L195.00,201.19 L195.50,201.12 L196.00,201.06 L196.50,200.99 L197.00,200.93 L197.50,200.86 L198.00,200.80 L198.50,200.74 L199.00,200.68 L199.50,200.62 L200.00,200.56 L200.50,200.50 L201.00,200.44 L201.50,200.38 L202.00,200.33 L202.50,200.27 L203.00,200.22 L203.50,200.17 L204.00,200.12 L204.50,200.07 L205.00,200.02 L205.50,199.97 L206.00,199.92 L206.50,199.87 L207.00,199.82 L207.50,199.78 L208.00,199.73 L208.50,199.69 L209.00,199.64 L209.50,199.60 L210.00,199.56 L210.50,199.52 L211.00,199.48 L211.50,199.44 L212.00,199.40 L212.50,199.36 L213.00,199.32 L213.50,199.28 L214.00,199.25 L214.50,199.21 L215.00,199.17 L215.50,199.14 L216.00,199.10 L216.50,199.07 L217.00,199.04 L217.50,199.00 L218.00,198.97 L218.50,198.94 L219.00,198.91 L219.50,198.88 L220.00,198.85 L220.50,198.82 L221.00,198.79 L221.50,198.76 L222.00,198.73 L222.50,198.71 L223.00,198.68 L223.50,198.65 L224.00,198.63 L224.50,198.60 L225.00,198.58 L225.50,198.55 L226.00,198.53 L226.50,198.50 L227.00,198.48 L227.50,198.46 L228.00,198.44 L228.50,198.41 L229.00,198.39 L229.50,198.37 L230.00,198.35 L230.50,198.33 L231.00,198.31 L231.50,198.29 L232.00,198.27 L232.50,198.25 L233.00,198.23 L233.50,198.21 L234.00,198.19 L234.50,198.18 L235.00,198.16 L235.50,198.14 L236.00,198.12 L236.50,198.11 L237.00,198.09 L237.50,198.07 L238.00,198.06 L238.50,198.04 L239.00,198.03 L239.50,198.01 L240.00,198.00 L240.50,197.98 L241.00,197.97 L241.50,197.96 L242.00,197.94 L242.50,197.93 L243.00,197.92 L243.50,197.90 L244.00,197.89 L244.50,197.88 L245.00,197.87 L245.50,197.85 L246.00,197.84 L246.50,197.83 L247.00,197.82 L247.50,197.81 L248.00,197.80 L248.50,197.79 L249.00,197.77 L249.50,197.76 L250.00,197.75 L250.50,197.74 L251.00,197.73 L251.50,197.72 L252.00,197.72" fill="none" stroke="#93BD4E" stroke-width="3.4" stroke-linejoin="round" stroke-linecap="round"/>
<path d="M252.30,234.40 L252.80,235.10 L253.30,235.64 L253.80,235.94 L254.30,236.23 L254.80,236.50 L255.30,236.76 L255.80,237.01 L256.30,237.25 L256.80,237.47 L257.30,237.68 L257.80,237.89 L258.30,238.08 L258.80,238.27 L259.30,238.45 L259.80,238.62 L260.30,238.78 L260.80,238.93 L261.30,239.08 L261.80,239.21 L262.30,239.35 L262.80,239.47 L263.30,239.59 L263.80,239.71 L264.30,239.82 L264.80,239.92 L265.30,240.02 L265.80,240.12 L266.30,240.21 L266.80,240.29 L267.30,240.38 L267.80,240.45 L268.30,240.53 L268.80,240.60 L269.30,240.67 L269.80,240.73 L270.30,240.79 L270.80,240.85 L271.30,240.91 L271.80,240.96 L272.30,241.01 L272.80,241.06 L273.30,241.11 L273.80,241.15 L274.30,241.19 L274.80,241.23 L275.30,241.27 L275.80,241.30 L276.30,241.34 L276.80,241.37 L277.30,241.40 L277.80,241.43 L278.30,241.46 L278.80,241.49 L279.30,241.51 L279.80,241.54 L280.30,241.56 L280.80,241.58 L281.30,241.60 L281.80,241.62 L282.30,241.64 L282.80,241.66 L283.30,241.68 L283.80,241.69 L284.30,241.71 L284.80,241.72 L285.30,241.74 L285.80,241.75 L286.30,241.76 L286.80,241.77 L287.30,241.78 L287.80,241.80 L288.30,241.81 L288.80,241.82 L289.30,241.82 L289.80,241.83 L290.30,241.84 L290.80,241.85 L291.30,241.86 L291.80,241.86 L292.30,241.87 L292.80,241.88 L293.30,241.88 L293.80,241.89 L294.30,241.89 L294.80,241.90 L295.30,241.90 L295.80,241.91 L296.30,241.91 L296.80,241.92 L297.30,241.92 L297.80,241.92 L298.30,241.93 L298.80,241.93 L299.30,241.93 L299.80,241.93 L300.30,241.94 L300.80,241.94 L301.30,241.94 L301.80,241.94 L302.30,241.95 L302.80,241.95 L303.30,241.95 L303.80,241.95 L304.30,241.95 L304.80,241.95 L305.30,241.95 L305.80,241.95 L306.30,241.96 L306.80,241.96 L307.30,241.96 L307.80,241.96 L308.30,241.96 L308.80,241.96 L309.30,241.96 L309.80,241.96 L310.30,241.96 L310.80,241.96 L311.30,241.96 L311.80,241.96 L312.30,241.96 L312.80,241.96 L313.30,241.96 L313.80,241.96 L314.30,241.96 L314.80,241.96 L315.30,241.96 L315.80,241.96 L316.30,241.96 L316.80,241.96 L317.30,241.96 L317.80,241.96 L318.30,241.96 L318.80,241.96 L319.30,241.96 L319.80,241.96 L320.30,241.96 L320.80,241.96 L321.30,241.95 L321.80,241.95 L322.30,241.95 L322.80,241.95 L323.30,241.95 L323.80,241.95 L324.30,241.95 L324.80,241.95 L325.30,241.95 L325.80,241.95 L326.30,241.95 L326.80,241.95 L327.30,241.95 L327.80,241.95 L328.30,241.94 L328.80,241.94 L329.30,241.94 L329.80,241.94 L330.30,241.94 L330.80,241.94 L331.30,241.94 L331.80,241.94 L332.30,241.94 L332.80,241.94 L333.30,241.94 L333.80,241.93 L334.30,241.93 L334.80,241.93 L335.30,241.93 L335.80,241.93 L336.30,241.93 L336.80,241.93 L337.30,241.93 L337.80,241.93 L338.30,241.93 L338.80,241.92 L339.30,241.92 L339.80,241.92 L340.30,241.92 L340.80,241.92 L341.30,241.92 L341.80,241.92 L342.30,241.92 L342.80,241.92 L343.30,241.92 L343.80,241.91 L344.30,241.91 L344.80,241.91 L345.30,241.91 L345.80,241.91 L346.30,241.91 L346.80,241.91 L347.30,241.91 L347.80,241.91 L348.30,241.91 L348.80,241.90 L349.30,241.90 L349.80,241.90 L350.30,241.90 L350.80,241.90 L351.30,241.90 L351.80,241.90 L352.30,241.90 L352.80,241.90 L353.30,241.89 L353.80,241.89 L354.30,241.89 L354.80,241.89 L355.30,241.89 L355.80,241.89 L356.30,241.89 L356.80,241.89 L357.30,241.89 L357.80,241.89 L358.30,241.88 L358.80,241.88 L359.30,241.88 L359.80,241.88 L360.30,241.88 L360.80,241.88 L361.30,241.88 L361.80,241.88 L362.30,241.88 L362.80,241.87 L363.30,241.87 L363.80,241.87 L364.30,241.87 L364.80,241.87 L365.30,241.87 L365.80,241.87 L366.30,241.87 L366.80,241.87 L367.30,241.86 L367.80,241.86 L368.30,241.86 L368.80,241.86 L369.30,241.86 L369.80,241.86 L370.30,241.86 L370.80,241.86 L371.30,241.86 L371.80,241.85 L372.30,241.85 L372.80,241.85 L373.30,241.85 L373.80,241.85 L374.30,241.85 L374.80,241.85 L375.30,241.85 L375.80,241.85 L376.30,241.85 L376.80,241.84 L377.30,241.84 L377.80,241.84 L378.30,241.84 L378.80,241.84 L379.30,241.84 L379.80,241.84 L380.30,241.84 L380.80,241.84 L381.30,241.83 L381.80,241.83 L382.30,241.83 L382.80,241.83 L383.30,241.83 L383.80,241.83 L384.30,241.83 L384.80,241.83 L385.20,241.83" fill="none" stroke="#93BD4E" stroke-width="3.4" stroke-linejoin="round" stroke-linecap="round"/>
<path d="M104.50,249.90 L104.50,218.96 L105.00,218.80 L105.50,218.51 L106.00,218.19 L106.50,217.84 L107.00,217.47 L107.50,217.08 L108.00,216.66 L108.50,216.22 L109.00,215.75 L109.50,215.26 L110.00,214.76 L110.50,214.23 L111.00,213.68 L111.50,213.12 L112.00,212.53 L112.50,211.94 L113.00,211.32 L113.50,210.69 L114.00,210.05 L114.50,209.39 L115.00,208.73 L115.50,208.05 L116.00,207.36 L116.50,206.66 L117.00,205.95 L117.50,205.23 L118.00,204.51 L118.50,203.78 L119.00,203.04 L119.50,202.30 L120.00,201.56 L120.50,200.81 L121.00,200.06 L121.50,199.31 L122.00,198.56 L122.50,197.81 L123.00,197.06 L123.50,196.31 L124.00,195.57 L124.50,194.83 L125.00,194.09 L125.50,193.36 L126.00,192.63 L126.50,191.91 L127.00,191.19 L127.50,190.48 L128.00,189.77 L128.50,189.07 L129.00,188.38 L129.50,187.68 L130.00,187.00 L130.50,186.32 L131.00,185.64 L131.50,184.97 L132.00,184.31 L132.50,183.65 L133.00,183.00 L133.50,182.35 L134.00,181.71 L134.50,181.14 L135.00,180.58 L135.50,180.03 L136.00,179.48 L136.50,178.94 L137.00,178.41 L137.50,177.88 L138.00,177.36 L138.50,176.85 L139.00,176.34 L139.50,175.84 L140.00,175.34 L140.50,174.85 L141.00,174.37 L141.50,173.90 L142.00,173.43 L142.50,172.96 L143.00,172.51 L143.50,172.06 L144.00,171.61 L144.50,171.11 L145.00,170.62 L145.50,170.14 L146.00,169.66 L146.50,169.18 L147.00,168.72 L147.50,168.25 L148.00,167.80 L148.50,167.35 L149.00,166.90 L149.50,166.46 L150.00,166.03 L150.50,165.60 L151.00,165.17 L151.50,164.75 L152.00,164.34 L152.50,163.93 L153.00,163.53 L153.50,163.13 L154.00,162.73 L154.50,162.34 L155.00,161.96 L155.50,161.58 L156.00,161.20 L156.50,160.83 L157.00,160.47 L157.50,160.09 L158.00,159.72 L158.50,159.35 L159.00,158.99 L159.50,158.63 L160.00,158.27 L160.50,157.92 L161.00,157.58 L161.50,157.23 L162.00,156.89 L162.50,156.56 L163.00,156.23 L163.50,155.90 L164.00,155.58 L164.50,155.26 L165.00,154.94 L165.50,154.63 L166.00,154.32 L166.50,154.01 L167.00,153.70 L167.50,153.40 L168.00,153.11 L168.50,152.81 L169.00,152.52 L169.50,152.23 L170.00,151.95 L170.50,151.67 L171.00,151.39 L171.50,151.11 L172.00,150.83 L172.50,150.56 L173.00,150.29 L173.50,150.03 L174.00,149.76 L174.50,149.50 L175.00,149.24 L175.50,148.98 L176.00,148.73 L176.50,148.47 L177.00,148.22 L177.50,147.97 L178.00,147.73 L178.50,147.48 L179.00,147.24 L179.50,147.00 L180.00,146.76 L180.50,146.53 L181.00,146.30 L181.50,146.06 L182.00,145.84 L182.50,145.61 L183.00,145.38 L183.50,145.16 L184.00,144.94 L184.50,144.72 L185.00,144.51 L185.50,144.29 L186.00,144.08 L186.50,143.87 L187.00,143.66 L187.50,143.46 L188.00,143.25 L188.50,143.05 L189.00,142.85 L189.50,142.65 L190.00,142.46 L190.50,142.26 L191.00,142.07 L191.50,141.88 L192.00,141.70 L192.50,141.51 L193.00,141.33 L193.50,141.14 L194.00,140.96 L194.50,140.78 L195.00,140.61 L195.50,140.43 L196.00,140.26 L196.50,140.09 L197.00,139.92 L197.50,139.75 L198.00,139.59 L198.50,139.42 L199.00,139.26 L199.50,139.10 L200.00,138.94 L200.50,138.80 L201.00,138.66 L201.50,138.52 L202.00,138.38 L202.50,138.24 L203.00,138.11 L203.50,137.97 L204.00,137.84 L204.50,137.71 L205.00,137.58 L205.50,137.45 L206.00,137.33 L206.50,137.20 L207.00,137.08 L207.50,136.96 L208.00,136.84 L208.50,136.73 L209.00,136.61 L209.50,136.50 L210.00,136.38 L210.50,136.27 L211.00,136.16 L211.50,136.06 L212.00,135.95 L212.50,135.84 L213.00,135.74 L213.50,135.64 L214.00,135.54 L214.50,135.44 L215.00,135.34 L215.50,135.23 L216.00,135.11 L216.50,135.00 L217.00,134.89 L217.50,134.78 L218.00,134.67 L218.50,134.57 L219.00,134.46 L219.50,134.36 L220.00,134.25 L220.50,134.15 L221.00,134.05 L221.50,133.96 L222.00,133.86 L222.50,133.76 L223.00,133.67 L223.50,133.57 L224.00,133.48 L224.50,133.39 L225.00,133.30 L225.50,133.21 L226.00,133.13 L226.50,133.04 L227.00,132.96 L227.50,132.87 L228.00,132.79 L228.50,132.71 L229.00,132.63 L229.50,132.55 L230.00,132.47 L230.50,132.40 L231.00,132.32 L231.50,132.25 L232.00,132.18 L232.50,132.10 L233.00,132.03 L233.50,131.96 L234.00,131.89 L234.50,131.83 L235.00,131.76 L235.50,131.69 L236.00,131.63 L236.50,131.57 L237.00,131.50 L237.50,131.44 L238.00,131.38 L238.50,131.32 L239.00,131.26 L239.50,131.21 L240.00,131.15 L240.50,131.10 L241.00,131.04 L241.50,130.99 L242.00,130.93 L242.50,130.88 L243.00,130.83 L243.50,130.78 L244.00,130.73 L244.50,130.68 L245.00,130.64 L245.50,130.59 L246.00,130.54 L246.50,130.50 L247.00,130.45 L247.50,130.41 L248.00,130.37 L248.50,130.32 L249.00,130.28 L249.50,130.24 L250.00,130.20 L250.50,130.16 L251.00,130.13 L251.50,130.09 L252.00,130.05 L252.30,156.70 L252.80,157.16 L253.30,158.16 L253.80,158.63 L254.30,159.04 L254.80,159.44 L255.30,159.82 L255.80,160.20 L256.30,160.56 L256.80,160.92 L257.30,161.26 L257.80,161.60 L258.30,161.92 L258.80,162.24 L259.30,162.55 L259.80,162.85 L260.30,163.15 L260.80,163.43 L261.30,163.71 L261.80,163.98 L262.30,164.24 L262.80,164.50 L263.30,164.75 L263.80,164.99 L264.30,165.23 L264.80,165.46 L265.30,165.68 L265.80,165.90 L266.30,166.11 L266.80,166.32 L267.30,166.52 L267.80,166.72 L268.30,166.91 L268.80,167.09 L269.30,167.27 L269.80,167.45 L270.30,167.62 L270.80,167.78 L271.30,167.95 L271.80,168.10 L272.30,168.26 L272.80,168.41 L273.30,168.55 L273.80,168.69 L274.30,168.83 L274.80,168.96 L275.30,169.10 L275.80,169.22 L276.30,169.35 L276.80,169.47 L277.30,169.58 L277.80,169.70 L278.30,169.81 L278.80,169.92 L279.30,170.02 L279.80,170.12 L280.30,170.21 L280.80,170.29 L281.30,170.36 L281.80,170.43 L282.30,170.50 L282.80,170.57 L283.30,170.63 L283.80,170.69 L284.30,170.75 L284.80,170.81 L285.30,170.86 L285.80,170.92 L286.30,170.97 L286.80,171.02 L287.30,171.06 L287.80,171.11 L288.30,171.15 L288.80,171.20 L289.30,171.24 L289.80,171.28 L290.30,171.31 L290.80,171.35 L291.30,171.38 L291.80,171.42 L292.30,171.45 L292.80,171.48 L293.30,171.51 L293.80,171.53 L294.30,171.56 L294.80,171.58 L295.30,171.61 L295.80,171.63 L296.30,171.65 L296.80,171.67 L297.30,171.69 L297.80,171.71 L298.30,171.74 L298.80,171.77 L299.30,171.81 L299.80,171.84 L300.30,171.88 L300.80,171.91 L301.30,171.94 L301.80,171.97 L302.30,172.00 L302.80,172.03 L303.30,172.06 L303.80,172.08 L304.30,172.11 L304.80,172.14 L305.30,172.16 L305.80,172.18 L306.30,172.21 L306.80,172.23 L307.30,172.25 L307.80,172.28 L308.30,172.30 L308.80,172.32 L309.30,172.34 L309.80,172.36 L310.30,172.38 L310.80,172.40 L311.30,172.41 L311.80,172.43 L312.30,172.45 L312.80,172.46 L313.30,172.48 L313.80,172.50 L314.30,172.51 L314.80,172.53 L315.30,172.54 L315.80,172.56 L316.30,172.57 L316.80,172.58 L317.30,172.60 L317.80,172.61 L318.30,172.62 L318.80,172.63 L319.30,172.64 L319.80,172.66 L320.30,172.67 L320.80,172.68 L321.30,172.69 L321.80,172.70 L322.30,172.71 L322.80,172.72 L323.30,172.73 L323.80,172.74 L324.30,172.74 L324.80,172.75 L325.30,172.76 L325.80,172.77 L326.30,172.78 L326.80,172.79 L327.30,172.79 L327.80,172.80 L328.30,172.81 L328.80,172.81 L329.30,172.82 L329.80,172.83 L330.30,172.83 L330.80,172.84 L331.30,172.85 L331.80,172.85 L332.30,172.86 L332.80,172.86 L333.30,172.87 L333.80,172.87 L334.30,172.88 L334.80,172.89 L335.30,172.89 L335.80,172.89 L336.30,172.90 L336.80,172.90 L337.30,172.91 L337.80,172.91 L338.30,172.92 L338.80,172.92 L339.30,172.92 L339.80,172.93 L340.30,172.93 L340.80,172.94 L341.30,172.94 L341.80,172.94 L342.30,172.95 L342.80,172.95 L343.30,172.95 L343.80,172.96 L344.30,172.96 L344.80,172.96 L345.30,172.96 L345.80,172.97 L346.30,172.97 L346.80,172.97 L347.30,172.97 L347.80,172.98 L348.30,172.98 L348.80,172.98 L349.30,172.98 L349.80,172.99 L350.30,172.99 L350.80,172.99 L351.30,172.99 L351.80,172.99 L352.30,173.00 L352.80,173.00 L353.30,173.00 L353.80,173.00 L354.30,173.00 L354.80,173.01 L355.30,173.01 L355.80,173.01 L356.30,173.01 L356.80,173.01 L357.30,173.01 L357.80,173.01 L358.30,173.02 L358.80,173.02 L359.30,173.02 L359.80,173.02 L360.30,173.02 L360.80,173.02 L361.30,173.02 L361.80,173.02 L362.30,173.03 L362.80,173.03 L363.30,173.03 L363.80,173.03 L364.30,173.03 L364.80,173.03 L365.30,173.03 L365.80,173.03 L366.30,173.03 L366.80,173.03 L367.30,173.04 L367.80,173.04 L368.30,173.04 L368.80,173.04 L369.30,173.04 L369.80,173.04 L370.30,173.04 L370.80,173.04 L371.30,173.04 L371.80,173.04 L372.30,173.04 L372.80,173.04 L373.30,173.04 L373.80,173.04 L374.30,173.05 L374.80,173.05 L375.30,173.05 L375.80,173.05 L376.30,173.05 L376.80,173.05 L377.30,173.05 L377.80,173.05 L378.30,173.05 L378.80,173.05 L379.30,173.05 L379.80,173.05 L380.30,173.05 L380.80,173.05 L381.30,173.05 L381.80,173.05 L382.30,173.05 L382.80,173.05 L383.30,173.05 L383.80,173.05 L384.30,173.05 L384.80,173.05 L385.20,173.05" fill="none" stroke="#7C5EA9" stroke-width="1.8" stroke-linejoin="round"/>
<path d="M90.30,249.90 L105.30,249.90" fill="none" stroke="#7C5EA9" stroke-width="3.4" stroke-linejoin="round" stroke-linecap="butt"/>
<path d="M104.50,218.96 L105.00,218.80 L105.50,218.51 L106.00,218.19 L106.50,217.84 L107.00,217.47 L107.50,217.08 L108.00,216.66 L108.50,216.22 L109.00,215.75 L109.50,215.26 L110.00,214.76 L110.50,214.23 L111.00,213.68 L111.50,213.12 L112.00,212.53 L112.50,211.94 L113.00,211.32 L113.50,210.69 L114.00,210.05 L114.50,209.39 L115.00,208.73 L115.50,208.05 L116.00,207.36 L116.50,206.66 L117.00,205.95 L117.50,205.23 L118.00,204.51 L118.50,203.78 L119.00,203.04 L119.50,202.30 L120.00,201.56 L120.50,200.81 L121.00,200.06 L121.50,199.31 L122.00,198.56 L122.50,197.81 L123.00,197.06 L123.50,196.31 L124.00,195.57 L124.50,194.83 L125.00,194.09 L125.50,193.36 L126.00,192.63 L126.50,191.91 L127.00,191.19 L127.50,190.48 L128.00,189.77 L128.50,189.07 L129.00,188.38 L129.50,187.68 L130.00,187.00 L130.50,186.32 L131.00,185.64 L131.50,184.97 L132.00,184.31 L132.50,183.65 L133.00,183.00 L133.50,182.35 L134.00,181.71 L134.50,181.14 L135.00,180.58 L135.50,180.03 L136.00,179.48 L136.50,178.94 L137.00,178.41 L137.50,177.88 L138.00,177.36 L138.50,176.85 L139.00,176.34 L139.50,175.84 L140.00,175.34 L140.50,174.85 L141.00,174.37 L141.50,173.90 L142.00,173.43 L142.50,172.96 L143.00,172.51 L143.50,172.06 L144.00,171.61 L144.50,171.11 L145.00,170.62 L145.50,170.14 L146.00,169.66 L146.50,169.18 L147.00,168.72 L147.50,168.25 L148.00,167.80 L148.50,167.35 L149.00,166.90 L149.50,166.46 L150.00,166.03 L150.50,165.60 L151.00,165.17 L151.50,164.75 L152.00,164.34 L152.50,163.93 L153.00,163.53 L153.50,163.13 L154.00,162.73 L154.50,162.34 L155.00,161.96 L155.50,161.58 L156.00,161.20 L156.50,160.83 L157.00,160.47 L157.50,160.09 L158.00,159.72 L158.50,159.35 L159.00,158.99 L159.50,158.63 L160.00,158.27 L160.50,157.92 L161.00,157.58 L161.50,157.23 L162.00,156.89 L162.50,156.56 L163.00,156.23 L163.50,155.90 L164.00,155.58 L164.50,155.26 L165.00,154.94 L165.50,154.63 L166.00,154.32 L166.50,154.01 L167.00,153.70 L167.50,153.40 L168.00,153.11 L168.50,152.81 L169.00,152.52 L169.50,152.23 L170.00,151.95 L170.50,151.67 L171.00,151.39 L171.50,151.11 L172.00,150.83 L172.50,150.56 L173.00,150.29 L173.50,150.03 L174.00,149.76 L174.50,149.50 L175.00,149.24 L175.50,148.98 L176.00,148.73 L176.50,148.47 L177.00,148.22 L177.50,147.97 L178.00,147.73 L178.50,147.48 L179.00,147.24 L179.50,147.00 L180.00,146.76 L180.50,146.53 L181.00,146.30 L181.50,146.06 L182.00,145.84 L182.50,145.61 L183.00,145.38 L183.50,145.16 L184.00,144.94 L184.50,144.72 L185.00,144.51 L185.50,144.29 L186.00,144.08 L186.50,143.87 L187.00,143.66 L187.50,143.46 L188.00,143.25 L188.50,143.05 L189.00,142.85 L189.50,142.65 L190.00,142.46 L190.50,142.26 L191.00,142.07 L191.50,141.88 L192.00,141.70 L192.50,141.51 L193.00,141.33 L193.50,141.14 L194.00,140.96 L194.50,140.78 L195.00,140.61 L195.50,140.43 L196.00,140.26 L196.50,140.09 L197.00,139.92 L197.50,139.75 L198.00,139.59 L198.50,139.42 L199.00,139.26 L199.50,139.10 L200.00,138.94 L200.50,138.80 L201.00,138.66 L201.50,138.52 L202.00,138.38 L202.50,138.24 L203.00,138.11 L203.50,137.97 L204.00,137.84 L204.50,137.71 L205.00,137.58 L205.50,137.45 L206.00,137.33 L206.50,137.20 L207.00,137.08 L207.50,136.96 L208.00,136.84 L208.50,136.73 L209.00,136.61 L209.50,136.50 L210.00,136.38 L210.50,136.27 L211.00,136.16 L211.50,136.06 L212.00,135.95 L212.50,135.84 L213.00,135.74 L213.50,135.64 L214.00,135.54 L214.50,135.44 L215.00,135.34 L215.50,135.23 L216.00,135.11 L216.50,135.00 L217.00,134.89 L217.50,134.78 L218.00,134.67 L218.50,134.57 L219.00,134.46 L219.50,134.36 L220.00,134.25 L220.50,134.15 L221.00,134.05 L221.50,133.96 L222.00,133.86 L222.50,133.76 L223.00,133.67 L223.50,133.57 L224.00,133.48 L224.50,133.39 L225.00,133.30 L225.50,133.21 L226.00,133.13 L226.50,133.04 L227.00,132.96 L227.50,132.87 L228.00,132.79 L228.50,132.71 L229.00,132.63 L229.50,132.55 L230.00,132.47 L230.50,132.40 L231.00,132.32 L231.50,132.25 L232.00,132.18 L232.50,132.10 L233.00,132.03 L233.50,131.96 L234.00,131.89 L234.50,131.83 L235.00,131.76 L235.50,131.69 L236.00,131.63 L236.50,131.57 L237.00,131.50 L237.50,131.44 L238.00,131.38 L238.50,131.32 L239.00,131.26 L239.50,131.21 L240.00,131.15 L240.50,131.10 L241.00,131.04 L241.50,130.99 L242.00,130.93 L242.50,130.88 L243.00,130.83 L243.50,130.78 L244.00,130.73 L244.50,130.68 L245.00,130.64 L245.50,130.59 L246.00,130.54 L246.50,130.50 L247.00,130.45 L247.50,130.41 L248.00,130.37 L248.50,130.32 L249.00,130.28 L249.50,130.24 L250.00,130.20 L250.50,130.16 L251.00,130.13 L251.50,130.09 L252.00,130.05" fill="none" stroke="#7C5EA9" stroke-width="3.4" stroke-linejoin="round" stroke-linecap="round"/>
<path d="M252.30,156.70 L252.80,157.16 L253.30,158.16 L253.80,158.63 L254.30,159.04 L254.80,159.44 L255.30,159.82 L255.80,160.20 L256.30,160.56 L256.80,160.92 L257.30,161.26 L257.80,161.60 L258.30,161.92 L258.80,162.24 L259.30,162.55 L259.80,162.85 L260.30,163.15 L260.80,163.43 L261.30,163.71 L261.80,163.98 L262.30,164.24 L262.80,164.50 L263.30,164.75 L263.80,164.99 L264.30,165.23 L264.80,165.46 L265.30,165.68 L265.80,165.90 L266.30,166.11 L266.80,166.32 L267.30,166.52 L267.80,166.72 L268.30,166.91 L268.80,167.09 L269.30,167.27 L269.80,167.45 L270.30,167.62 L270.80,167.78 L271.30,167.95 L271.80,168.10 L272.30,168.26 L272.80,168.41 L273.30,168.55 L273.80,168.69 L274.30,168.83 L274.80,168.96 L275.30,169.10 L275.80,169.22 L276.30,169.35 L276.80,169.47 L277.30,169.58 L277.80,169.70 L278.30,169.81 L278.80,169.92 L279.30,170.02 L279.80,170.12 L280.30,170.21 L280.80,170.29 L281.30,170.36 L281.80,170.43 L282.30,170.50 L282.80,170.57 L283.30,170.63 L283.80,170.69 L284.30,170.75 L284.80,170.81 L285.30,170.86 L285.80,170.92 L286.30,170.97 L286.80,171.02 L287.30,171.06 L287.80,171.11 L288.30,171.15 L288.80,171.20 L289.30,171.24 L289.80,171.28 L290.30,171.31 L290.80,171.35 L291.30,171.38 L291.80,171.42 L292.30,171.45 L292.80,171.48 L293.30,171.51 L293.80,171.53 L294.30,171.56 L294.80,171.58 L295.30,171.61 L295.80,171.63 L296.30,171.65 L296.80,171.67 L297.30,171.69 L297.80,171.71 L298.30,171.74 L298.80,171.77 L299.30,171.81 L299.80,171.84 L300.30,171.88 L300.80,171.91 L301.30,171.94 L301.80,171.97 L302.30,172.00 L302.80,172.03 L303.30,172.06 L303.80,172.08 L304.30,172.11 L304.80,172.14 L305.30,172.16 L305.80,172.18 L306.30,172.21 L306.80,172.23 L307.30,172.25 L307.80,172.28 L308.30,172.30 L308.80,172.32 L309.30,172.34 L309.80,172.36 L310.30,172.38 L310.80,172.40 L311.30,172.41 L311.80,172.43 L312.30,172.45 L312.80,172.46 L313.30,172.48 L313.80,172.50 L314.30,172.51 L314.80,172.53 L315.30,172.54 L315.80,172.56 L316.30,172.57 L316.80,172.58 L317.30,172.60 L317.80,172.61 L318.30,172.62 L318.80,172.63 L319.30,172.64 L319.80,172.66 L320.30,172.67 L320.80,172.68 L321.30,172.69 L321.80,172.70 L322.30,172.71 L322.80,172.72 L323.30,172.73 L323.80,172.74 L324.30,172.74 L324.80,172.75 L325.30,172.76 L325.80,172.77 L326.30,172.78 L326.80,172.79 L327.30,172.79 L327.80,172.80 L328.30,172.81 L328.80,172.81 L329.30,172.82 L329.80,172.83 L330.30,172.83 L330.80,172.84 L331.30,172.85 L331.80,172.85 L332.30,172.86 L332.80,172.86 L333.30,172.87 L333.80,172.87 L334.30,172.88 L334.80,172.89 L335.30,172.89 L335.80,172.89 L336.30,172.90 L336.80,172.90 L337.30,172.91 L337.80,172.91 L338.30,172.92 L338.80,172.92 L339.30,172.92 L339.80,172.93 L340.30,172.93 L340.80,172.94 L341.30,172.94 L341.80,172.94 L342.30,172.95 L342.80,172.95 L343.30,172.95 L343.80,172.96 L344.30,172.96 L344.80,172.96 L345.30,172.96 L345.80,172.97 L346.30,172.97 L346.80,172.97 L347.30,172.97 L347.80,172.98 L348.30,172.98 L348.80,172.98 L349.30,172.98 L349.80,172.99 L350.30,172.99 L350.80,172.99 L351.30,172.99 L351.80,172.99 L352.30,173.00 L352.80,173.00 L353.30,173.00 L353.80,173.00 L354.30,173.00 L354.80,173.01 L355.30,173.01 L355.80,173.01 L356.30,173.01 L356.80,173.01 L357.30,173.01 L357.80,173.01 L358.30,173.02 L358.80,173.02 L359.30,173.02 L359.80,173.02 L360.30,173.02 L360.80,173.02 L361.30,173.02 L361.80,173.02 L362.30,173.03 L362.80,173.03 L363.30,173.03 L363.80,173.03 L364.30,173.03 L364.80,173.03 L365.30,173.03 L365.80,173.03 L366.30,173.03 L366.80,173.03 L367.30,173.04 L367.80,173.04 L368.30,173.04 L368.80,173.04 L369.30,173.04 L369.80,173.04 L370.30,173.04 L370.80,173.04 L371.30,173.04 L371.80,173.04 L372.30,173.04 L372.80,173.04 L373.30,173.04 L373.80,173.04 L374.30,173.05 L374.80,173.05 L375.30,173.05 L375.80,173.05 L376.30,173.05 L376.80,173.05 L377.30,173.05 L377.80,173.05 L378.30,173.05 L378.80,173.05 L379.30,173.05 L379.80,173.05 L380.30,173.05 L380.80,173.05 L381.30,173.05 L381.80,173.05 L382.30,173.05 L382.80,173.05 L383.30,173.05 L383.80,173.05 L384.30,173.05 L384.80,173.05 L385.20,173.05" fill="none" stroke="#7C5EA9" stroke-width="3.4" stroke-linejoin="round" stroke-linecap="round"/>
<path d="M104.50,213.30 L104.50,175.30 L105.00,174.91 L105.50,174.53 L106.00,174.14 L106.50,173.77 L107.00,173.39 L107.50,172.74 L108.00,172.10 L108.50,171.45 L109.00,170.81 L109.50,170.18 L110.00,169.55 L110.50,168.71 L111.00,167.88 L111.50,167.05 L112.00,166.22 L112.50,165.40 L113.00,164.58 L113.50,163.77 L114.00,162.96 L114.50,162.16 L115.00,161.35 L115.50,160.56 L116.00,159.76 L116.50,158.97 L117.00,158.19 L117.50,157.41 L118.00,156.63 L118.50,155.85 L119.00,155.08 L119.50,154.32 L120.00,153.56 L120.50,152.77 L121.00,151.98 L121.50,151.20 L122.00,150.43 L122.50,149.66 L123.00,148.89 L123.50,148.12 L124.00,147.36 L124.50,146.61 L125.00,145.86 L125.50,145.11 L126.00,144.37 L126.50,143.63 L127.00,142.89 L127.50,142.16 L128.00,141.43 L128.50,140.71 L129.00,139.99 L129.50,139.27 L130.00,138.56 L130.50,137.87 L131.00,137.17 L131.50,136.48 L132.00,135.80 L132.50,135.12 L133.00,134.44 L133.50,133.77 L134.00,133.10 L134.50,132.44 L135.00,131.78 L135.50,131.12 L136.00,130.47 L136.50,129.82 L137.00,129.18 L137.50,128.54 L138.00,127.91 L138.50,127.28 L139.00,126.65 L139.50,126.03 L140.00,125.41 L140.50,124.81 L141.00,124.21 L141.50,123.61 L142.00,123.02 L142.50,122.43 L143.00,121.85 L143.50,121.27 L144.00,120.69 L144.50,120.12 L145.00,119.56 L145.50,118.99 L146.00,118.43 L146.50,117.88 L147.00,117.33 L147.50,116.78 L148.00,116.24 L148.50,115.70 L149.00,115.16 L149.50,114.63 L150.00,114.10 L150.50,113.59 L151.00,113.08 L151.50,112.58 L152.00,112.08 L152.50,111.59 L153.00,111.10 L153.50,110.61 L154.00,110.12 L154.50,109.64 L155.00,109.17 L155.50,108.69 L156.00,108.22 L156.50,107.76 L157.00,107.29 L157.50,106.83 L158.00,106.38 L158.50,105.93 L159.00,105.48 L159.50,105.03 L160.00,104.59 L160.50,104.15 L161.00,103.71 L161.50,103.28 L162.00,102.85 L162.50,102.42 L163.00,102.00 L163.50,101.58 L164.00,101.16 L164.50,100.75 L165.00,100.34 L165.50,99.93 L166.00,99.52 L166.50,99.12 L167.00,98.72 L167.50,98.33 L168.00,97.93 L168.50,97.54 L169.00,97.16 L169.50,96.77 L170.00,96.39 L170.50,96.02 L171.00,95.65 L171.50,95.28 L172.00,94.91 L172.50,94.55 L173.00,94.19 L173.50,93.83 L174.00,93.48 L174.50,93.12 L175.00,92.78 L175.50,92.43 L176.00,92.08 L176.50,91.74 L177.00,91.40 L177.50,91.07 L178.00,90.73 L178.50,90.40 L179.00,90.07 L179.50,89.74 L180.00,89.42 L180.50,89.10 L181.00,88.78 L181.50,88.46 L182.00,88.15 L182.50,87.83 L183.00,87.52 L183.50,87.21 L184.00,86.91 L184.50,86.60 L185.00,86.30 L185.50,86.00 L186.00,85.71 L186.50,85.41 L187.00,85.12 L187.50,84.83 L188.00,84.54 L188.50,84.25 L189.00,83.97 L189.50,83.69 L190.00,83.41 L190.50,83.13 L191.00,82.85 L191.50,82.58 L192.00,82.31 L192.50,82.04 L193.00,81.77 L193.50,81.51 L194.00,81.24 L194.50,80.98 L195.00,80.72 L195.50,80.47 L196.00,80.21 L196.50,79.96 L197.00,79.71 L197.50,79.46 L198.00,79.21 L198.50,78.96 L199.00,78.72 L199.50,78.48 L200.00,78.24 L200.50,78.00 L201.00,77.77 L201.50,77.53 L202.00,77.30 L202.50,77.07 L203.00,76.84 L203.50,76.62 L204.00,76.39 L204.50,76.17 L205.00,75.95 L205.50,75.73 L206.00,75.52 L206.50,75.30 L207.00,75.09 L207.50,74.88 L208.00,74.67 L208.50,74.46 L209.00,74.25 L209.50,74.05 L210.00,73.85 L210.50,73.65 L211.00,73.45 L211.50,73.25 L212.00,73.06 L212.50,72.86 L213.00,72.67 L213.50,72.48 L214.00,72.29 L214.50,72.11 L215.00,71.92 L215.50,71.74 L216.00,71.56 L216.50,71.38 L217.00,71.20 L217.50,71.02 L218.00,70.85 L218.50,70.67 L219.00,70.50 L219.50,70.33 L220.00,70.16 L220.50,70.00 L221.00,69.83 L221.50,69.67 L222.00,69.51 L222.50,69.35 L223.00,69.19 L223.50,69.03 L224.00,68.87 L224.50,68.72 L225.00,68.57 L225.50,68.42 L226.00,68.27 L226.50,68.12 L227.00,67.97 L227.50,67.83 L228.00,67.68 L228.50,67.54 L229.00,67.40 L229.50,67.26 L230.00,67.12 L230.50,66.98 L231.00,66.84 L231.50,66.70 L232.00,66.56 L232.50,66.42 L233.00,66.29 L233.50,66.15 L234.00,66.02 L234.50,65.89 L235.00,65.76 L235.50,65.63 L236.00,65.51 L236.50,65.38 L237.00,65.25 L237.50,65.13 L238.00,65.01 L238.50,64.89 L239.00,64.77 L239.50,64.65 L240.00,64.54 L240.50,64.42 L241.00,64.31 L241.50,64.19 L242.00,64.08 L242.50,63.97 L243.00,63.86 L243.50,63.75 L244.00,63.65 L244.50,63.54 L245.00,63.44 L245.50,63.33 L246.00,63.23 L246.50,63.13 L247.00,63.03 L247.50,62.93 L248.00,62.84 L248.50,62.74 L249.00,62.64 L249.50,62.55 L250.00,62.46 L250.50,62.37 L251.00,62.27 L251.50,62.18 L252.00,62.16 L252.30,105.79 L252.80,107.25 L253.30,108.77 L253.80,110.03 L254.30,111.08 L254.80,111.97 L255.30,112.74 L255.80,113.40 L256.30,113.99 L256.80,114.52 L257.30,115.00 L257.80,115.45 L258.30,115.86 L258.80,116.25 L259.30,116.61 L259.80,116.96 L260.30,117.30 L260.80,117.62 L261.30,117.94 L261.80,118.24 L262.30,118.54 L262.80,118.83 L263.30,119.11 L263.80,119.39 L264.30,119.66 L264.80,119.93 L265.30,120.19 L265.80,120.45 L266.30,120.70 L266.80,120.95 L267.30,121.20 L267.80,121.44 L268.30,121.67 L268.80,121.90 L269.30,122.13 L269.80,122.36 L270.30,122.58 L270.80,122.80 L271.30,123.01 L271.80,123.22 L272.30,123.43 L272.80,123.63 L273.30,123.83 L273.80,124.03 L274.30,124.23 L274.80,124.42 L275.30,124.60 L275.80,124.79 L276.30,124.97 L276.80,125.15 L277.30,125.33 L277.80,125.50 L278.30,125.67 L278.80,125.84 L279.30,126.00 L279.80,126.17 L280.30,126.33 L280.80,126.48 L281.30,126.64 L281.80,126.79 L282.30,126.94 L282.80,127.09 L283.30,127.24 L283.80,127.38 L284.30,127.52 L284.80,127.66 L285.30,127.80 L285.80,127.93 L286.30,128.07 L286.80,128.20 L287.30,128.33 L287.80,128.45 L288.30,128.58 L288.80,128.70 L289.30,128.82 L289.80,128.94 L290.30,129.06 L290.80,129.17 L291.30,129.29 L291.80,129.40 L292.30,129.51 L292.80,129.62 L293.30,129.72 L293.80,129.83 L294.30,129.93 L294.80,130.03 L295.30,130.13 L295.80,130.23 L296.30,130.32 L296.80,130.42 L297.30,130.51 L297.80,130.60 L298.30,130.69 L298.80,130.78 L299.30,130.87 L299.80,130.96 L300.30,131.04 L300.80,131.12 L301.30,131.21 L301.80,131.29 L302.30,131.37 L302.80,131.44 L303.30,131.52 L303.80,131.60 L304.30,131.67 L304.80,131.74 L305.30,131.82 L305.80,131.89 L306.30,131.96 L306.80,132.03 L307.30,132.09 L307.80,132.16 L308.30,132.22 L308.80,132.29 L309.30,132.35 L309.80,132.41 L310.30,132.48 L310.80,132.55 L311.30,132.61 L311.80,132.68 L312.30,132.75 L312.80,132.81 L313.30,132.87 L313.80,132.94 L314.30,133.00 L314.80,133.06 L315.30,133.12 L315.80,133.18 L316.30,133.23 L316.80,133.29 L317.30,133.35 L317.80,133.40 L318.30,133.46 L318.80,133.51 L319.30,133.57 L319.80,133.62 L320.30,133.67 L320.80,133.72 L321.30,133.77 L321.80,133.82 L322.30,133.87 L322.80,133.92 L323.30,133.97 L323.80,134.01 L324.30,134.06 L324.80,134.11 L325.30,134.15 L325.80,134.20 L326.30,134.24 L326.80,134.28 L327.30,134.33 L327.80,134.37 L328.30,134.41 L328.80,134.45 L329.30,134.49 L329.80,134.53 L330.30,134.57 L330.80,134.61 L331.30,134.65 L331.80,134.68 L332.30,134.72 L332.80,134.76 L333.30,134.80 L333.80,134.83 L334.30,134.87 L334.80,134.90 L335.30,134.93 L335.80,134.94 L336.30,134.96 L336.80,134.98 L337.30,135.00 L337.80,135.01 L338.30,135.03 L338.80,135.04 L339.30,135.06 L339.80,135.07 L340.30,135.09 L340.80,135.10 L341.30,135.11 L341.80,135.13 L342.30,135.14 L342.80,135.15 L343.30,135.17 L343.80,135.18 L344.30,135.19 L344.80,135.20 L345.30,135.21 L345.80,135.22 L346.30,135.23 L346.80,135.24 L347.30,135.25 L347.80,135.26 L348.30,135.27 L348.80,135.28 L349.30,135.28 L349.80,135.29 L350.30,135.30 L350.80,135.31 L351.30,135.32 L351.80,135.32 L352.30,135.33 L352.80,135.33 L353.30,135.34 L353.80,135.35 L354.30,135.35 L354.80,135.36 L355.30,135.36 L355.80,135.37 L356.30,135.37 L356.80,135.38 L357.30,135.38 L357.80,135.38 L358.30,135.39 L358.80,135.39 L359.30,135.40 L359.80,135.40 L360.30,135.40 L360.80,135.41 L361.30,135.42 L361.80,135.43 L362.30,135.43 L362.80,135.44 L363.30,135.45 L363.80,135.45 L364.30,135.46 L364.80,135.47 L365.30,135.47 L365.80,135.48 L366.30,135.48 L366.80,135.49 L367.30,135.49 L367.80,135.50 L368.30,135.50 L368.80,135.51 L369.30,135.51 L369.80,135.52 L370.30,135.52 L370.80,135.53 L371.30,135.53 L371.80,135.54 L372.30,135.54 L372.80,135.54 L373.30,135.55 L373.80,135.55 L374.30,135.55 L374.80,135.56 L375.30,135.56 L375.80,135.56 L376.30,135.56 L376.80,135.57 L377.30,135.57 L377.80,135.57 L378.30,135.57 L378.80,135.58 L379.30,135.58 L379.80,135.58 L380.30,135.58 L380.80,135.58 L381.30,135.59 L381.80,135.59 L382.30,135.59 L382.80,135.59 L383.30,135.59 L383.80,135.59 L384.30,135.59 L384.80,135.59 L385.20,135.60" fill="none" stroke="#45AACA" stroke-width="1.8" stroke-linejoin="round"/>
<path d="M90.30,213.30 L105.30,213.30" fill="none" stroke="#45AACA" stroke-width="3.4" stroke-linejoin="round" stroke-linecap="butt"/>
<path d="M104.50,175.30 L105.00,174.91 L105.50,174.53 L106.00,174.14 L106.50,173.77 L107.00,173.39 L107.50,172.74 L108.00,172.10 L108.50,171.45 L109.00,170.81 L109.50,170.18 L110.00,169.55 L110.50,168.71 L111.00,167.88 L111.50,167.05 L112.00,166.22 L112.50,165.40 L113.00,164.58 L113.50,163.77 L114.00,162.96 L114.50,162.16 L115.00,161.35 L115.50,160.56 L116.00,159.76 L116.50,158.97 L117.00,158.19 L117.50,157.41 L118.00,156.63 L118.50,155.85 L119.00,155.08 L119.50,154.32 L120.00,153.56 L120.50,152.77 L121.00,151.98 L121.50,151.20 L122.00,150.43 L122.50,149.66 L123.00,148.89 L123.50,148.12 L124.00,147.36 L124.50,146.61 L125.00,145.86 L125.50,145.11 L126.00,144.37 L126.50,143.63 L127.00,142.89 L127.50,142.16 L128.00,141.43 L128.50,140.71 L129.00,139.99 L129.50,139.27 L130.00,138.56 L130.50,137.87 L131.00,137.17 L131.50,136.48 L132.00,135.80 L132.50,135.12 L133.00,134.44 L133.50,133.77 L134.00,133.10 L134.50,132.44 L135.00,131.78 L135.50,131.12 L136.00,130.47 L136.50,129.82 L137.00,129.18 L137.50,128.54 L138.00,127.91 L138.50,127.28 L139.00,126.65 L139.50,126.03 L140.00,125.41 L140.50,124.81 L141.00,124.21 L141.50,123.61 L142.00,123.02 L142.50,122.43 L143.00,121.85 L143.50,121.27 L144.00,120.69 L144.50,120.12 L145.00,119.56 L145.50,118.99 L146.00,118.43 L146.50,117.88 L147.00,117.33 L147.50,116.78 L148.00,116.24 L148.50,115.70 L149.00,115.16 L149.50,114.63 L150.00,114.10 L150.50,113.59 L151.00,113.08 L151.50,112.58 L152.00,112.08 L152.50,111.59 L153.00,111.10 L153.50,110.61 L154.00,110.12 L154.50,109.64 L155.00,109.17 L155.50,108.69 L156.00,108.22 L156.50,107.76 L157.00,107.29 L157.50,106.83 L158.00,106.38 L158.50,105.93 L159.00,105.48 L159.50,105.03 L160.00,104.59 L160.50,104.15 L161.00,103.71 L161.50,103.28 L162.00,102.85 L162.50,102.42 L163.00,102.00 L163.50,101.58 L164.00,101.16 L164.50,100.75 L165.00,100.34 L165.50,99.93 L166.00,99.52 L166.50,99.12 L167.00,98.72 L167.50,98.33 L168.00,97.93 L168.50,97.54 L169.00,97.16 L169.50,96.77 L170.00,96.39 L170.50,96.02 L171.00,95.65 L171.50,95.28 L172.00,94.91 L172.50,94.55 L173.00,94.19 L173.50,93.83 L174.00,93.48 L174.50,93.12 L175.00,92.78 L175.50,92.43 L176.00,92.08 L176.50,91.74 L177.00,91.40 L177.50,91.07 L178.00,90.73 L178.50,90.40 L179.00,90.07 L179.50,89.74 L180.00,89.42 L180.50,89.10 L181.00,88.78 L181.50,88.46 L182.00,88.15 L182.50,87.83 L183.00,87.52 L183.50,87.21 L184.00,86.91 L184.50,86.60 L185.00,86.30 L185.50,86.00 L186.00,85.71 L186.50,85.41 L187.00,85.12 L187.50,84.83 L188.00,84.54 L188.50,84.25 L189.00,83.97 L189.50,83.69 L190.00,83.41 L190.50,83.13 L191.00,82.85 L191.50,82.58 L192.00,82.31 L192.50,82.04 L193.00,81.77 L193.50,81.51 L194.00,81.24 L194.50,80.98 L195.00,80.72 L195.50,80.47 L196.00,80.21 L196.50,79.96 L197.00,79.71 L197.50,79.46 L198.00,79.21 L198.50,78.96 L199.00,78.72 L199.50,78.48 L200.00,78.24 L200.50,78.00 L201.00,77.77 L201.50,77.53 L202.00,77.30 L202.50,77.07 L203.00,76.84 L203.50,76.62 L204.00,76.39 L204.50,76.17 L205.00,75.95 L205.50,75.73 L206.00,75.52 L206.50,75.30 L207.00,75.09 L207.50,74.88 L208.00,74.67 L208.50,74.46 L209.00,74.25 L209.50,74.05 L210.00,73.85 L210.50,73.65 L211.00,73.45 L211.50,73.25 L212.00,73.06 L212.50,72.86 L213.00,72.67 L213.50,72.48 L214.00,72.29 L214.50,72.11 L215.00,71.92 L215.50,71.74 L216.00,71.56 L216.50,71.38 L217.00,71.20 L217.50,71.02 L218.00,70.85 L218.50,70.67 L219.00,70.50 L219.50,70.33 L220.00,70.16 L220.50,70.00 L221.00,69.83 L221.50,69.67 L222.00,69.51 L222.50,69.35 L223.00,69.19 L223.50,69.03 L224.00,68.87 L224.50,68.72 L225.00,68.57 L225.50,68.42 L226.00,68.27 L226.50,68.12 L227.00,67.97 L227.50,67.83 L228.00,67.68 L228.50,67.54 L229.00,67.40 L229.50,67.26 L230.00,67.12 L230.50,66.98 L231.00,66.84 L231.50,66.70 L232.00,66.56 L232.50,66.42 L233.00,66.29 L233.50,66.15 L234.00,66.02 L234.50,65.89 L235.00,65.76 L235.50,65.63 L236.00,65.51 L236.50,65.38 L237.00,65.25 L237.50,65.13 L238.00,65.01 L238.50,64.89 L239.00,64.77 L239.50,64.65 L240.00,64.54 L240.50,64.42 L241.00,64.31 L241.50,64.19 L242.00,64.08 L242.50,63.97 L243.00,63.86 L243.50,63.75 L244.00,63.65 L244.50,63.54 L245.00,63.44 L245.50,63.33 L246.00,63.23 L246.50,63.13 L247.00,63.03 L247.50,62.93 L248.00,62.84 L248.50,62.74 L249.00,62.64 L249.50,62.55 L250.00,62.46 L250.50,62.37 L251.00,62.27 L251.50,62.18 L252.00,62.16" fill="none" stroke="#45AACA" stroke-width="3.4" stroke-linejoin="round" stroke-linecap="round"/>
<path d="M252.30,105.79 L252.80,107.25 L253.30,108.77 L253.80,110.03 L254.30,111.08 L254.80,111.97 L255.30,112.74 L255.80,113.40 L256.30,113.99 L256.80,114.52 L257.30,115.00 L257.80,115.45 L258.30,115.86 L258.80,116.25 L259.30,116.61 L259.80,116.96 L260.30,117.30 L260.80,117.62 L261.30,117.94 L261.80,118.24 L262.30,118.54 L262.80,118.83 L263.30,119.11 L263.80,119.39 L264.30,119.66 L264.80,119.93 L265.30,120.19 L265.80,120.45 L266.30,120.70 L266.80,120.95 L267.30,121.20 L267.80,121.44 L268.30,121.67 L268.80,121.90 L269.30,122.13 L269.80,122.36 L270.30,122.58 L270.80,122.80 L271.30,123.01 L271.80,123.22 L272.30,123.43 L272.80,123.63 L273.30,123.83 L273.80,124.03 L274.30,124.23 L274.80,124.42 L275.30,124.60 L275.80,124.79 L276.30,124.97 L276.80,125.15 L277.30,125.33 L277.80,125.50 L278.30,125.67 L278.80,125.84 L279.30,126.00 L279.80,126.17 L280.30,126.33 L280.80,126.48 L281.30,126.64 L281.80,126.79 L282.30,126.94 L282.80,127.09 L283.30,127.24 L283.80,127.38 L284.30,127.52 L284.80,127.66 L285.30,127.80 L285.80,127.93 L286.30,128.07 L286.80,128.20 L287.30,128.33 L287.80,128.45 L288.30,128.58 L288.80,128.70 L289.30,128.82 L289.80,128.94 L290.30,129.06 L290.80,129.17 L291.30,129.29 L291.80,129.40 L292.30,129.51 L292.80,129.62 L293.30,129.72 L293.80,129.83 L294.30,129.93 L294.80,130.03 L295.30,130.13 L295.80,130.23 L296.30,130.32 L296.80,130.42 L297.30,130.51 L297.80,130.60 L298.30,130.69 L298.80,130.78 L299.30,130.87 L299.80,130.96 L300.30,131.04 L300.80,131.12 L301.30,131.21 L301.80,131.29 L302.30,131.37 L302.80,131.44 L303.30,131.52 L303.80,131.60 L304.30,131.67 L304.80,131.74 L305.30,131.82 L305.80,131.89 L306.30,131.96 L306.80,132.03 L307.30,132.09 L307.80,132.16 L308.30,132.22 L308.80,132.29 L309.30,132.35 L309.80,132.41 L310.30,132.48 L310.80,132.55 L311.30,132.61 L311.80,132.68 L312.30,132.75 L312.80,132.81 L313.30,132.87 L313.80,132.94 L314.30,133.00 L314.80,133.06 L315.30,133.12 L315.80,133.18 L316.30,133.23 L316.80,133.29 L317.30,133.35 L317.80,133.40 L318.30,133.46 L318.80,133.51 L319.30,133.57 L319.80,133.62 L320.30,133.67 L320.80,133.72 L321.30,133.77 L321.80,133.82 L322.30,133.87 L322.80,133.92 L323.30,133.97 L323.80,134.01 L324.30,134.06 L324.80,134.11 L325.30,134.15 L325.80,134.20 L326.30,134.24 L326.80,134.28 L327.30,134.33 L327.80,134.37 L328.30,134.41 L328.80,134.45 L329.30,134.49 L329.80,134.53 L330.30,134.57 L330.80,134.61 L331.30,134.65 L331.80,134.68 L332.30,134.72 L332.80,134.76 L333.30,134.80 L333.80,134.83 L334.30,134.87 L334.80,134.90 L335.30,134.93 L335.80,134.94 L336.30,134.96 L336.80,134.98 L337.30,135.00 L337.80,135.01 L338.30,135.03 L338.80,135.04 L339.30,135.06 L339.80,135.07 L340.30,135.09 L340.80,135.10 L341.30,135.11 L341.80,135.13 L342.30,135.14 L342.80,135.15 L343.30,135.17 L343.80,135.18 L344.30,135.19 L344.80,135.20 L345.30,135.21 L345.80,135.22 L346.30,135.23 L346.80,135.24 L347.30,135.25 L347.80,135.26 L348.30,135.27 L348.80,135.28 L349.30,135.28 L349.80,135.29 L350.30,135.30 L350.80,135.31 L351.30,135.32 L351.80,135.32 L352.30,135.33 L352.80,135.33 L353.30,135.34 L353.80,135.35 L354.30,135.35 L354.80,135.36 L355.30,135.36 L355.80,135.37 L356.30,135.37 L356.80,135.38 L357.30,135.38 L357.80,135.38 L358.30,135.39 L358.80,135.39 L359.30,135.40 L359.80,135.40 L360.30,135.40 L360.80,135.41 L361.30,135.42 L361.80,135.43 L362.30,135.43 L362.80,135.44 L363.30,135.45 L363.80,135.45 L364.30,135.46 L364.80,135.47 L365.30,135.47 L365.80,135.48 L366.30,135.48 L366.80,135.49 L367.30,135.49 L367.80,135.50 L368.30,135.50 L368.80,135.51 L369.30,135.51 L369.80,135.52 L370.30,135.52 L370.80,135.53 L371.30,135.53 L371.80,135.54 L372.30,135.54 L372.80,135.54 L373.30,135.55 L373.80,135.55 L374.30,135.55 L374.80,135.56 L375.30,135.56 L375.80,135.56 L376.30,135.56 L376.80,135.57 L377.30,135.57 L377.80,135.57 L378.30,135.57 L378.80,135.58 L379.30,135.58 L379.80,135.58 L380.30,135.58 L380.80,135.58 L381.30,135.59 L381.80,135.59 L382.30,135.59 L382.80,135.59 L383.30,135.59 L383.80,135.59 L384.30,135.59 L384.80,135.59 L385.20,135.60" fill="none" stroke="#45AACA" stroke-width="3.4" stroke-linejoin="round" stroke-linecap="round"/>
<path d="M278.2,35.6 H301.6" stroke="#C6474A" stroke-width="1.7"/>
<circle cx="290" cy="35.6" r="1.5" fill="#C6474A"/>
<text x="303.2" y="40.50" font-family="'Liberation Sans', sans-serif" font-size="14">2.3 nM</text>
<path d="M278.2,57.6 H301.6" stroke="#93BD4E" stroke-width="1.7"/>
<circle cx="290" cy="57.6" r="1.5" fill="#93BD4E"/>
<text x="303.2" y="62.50" font-family="'Liberation Sans', sans-serif" font-size="14">4.6 nM</text>
<path d="M278.2,79.2 H301.6" stroke="#7C5EA9" stroke-width="1.7"/>
<circle cx="290" cy="79.2" r="1.5" fill="#7C5EA9"/>
<text x="303.2" y="84.10" font-family="'Liberation Sans', sans-serif" font-size="14">9.2 nM</text>
<path d="M278.2,101.0 H301.6" stroke="#45AACA" stroke-width="1.7"/>
<circle cx="290" cy="101.0" r="1.5" fill="#45AACA"/>
<text x="303.2" y="105.90" font-family="'Liberation Sans', sans-serif" font-size="14">18.4 nM</text>
<g stroke="#000" stroke-width="2" fill="none">
<path d="M526.0,36.0 V288.0"/>
<path d="M525.0,287.0 H789.5"/>
<path d="M521,287.00 H526.0"/>
<path d="M521,245.33 H526.0"/>
<path d="M521,203.67 H526.0"/>
<path d="M521,162.00 H526.0"/>
<path d="M521,120.33 H526.0"/>
<path d="M521,78.67 H526.0"/>
<path d="M521,37.00 H526.0"/>
<path d="M526.00,287.0 V291.7"/>
<path d="M657.25,287.0 V291.7"/>
<path d="M788.50,287.0 V291.7"/>
</g>
<g font-family="'Liberation Sans', sans-serif" font-size="16" fill="#000">
<text x="512.2" y="292.00" text-anchor="end">0</text>
<text x="512.2" y="250.33" text-anchor="end">50</text>
<text x="512.2" y="208.67" text-anchor="end">100</text>
<text x="512.2" y="167.00" text-anchor="end">150</text>
<text x="512.2" y="125.33" text-anchor="end">200</text>
<text x="512.2" y="83.67" text-anchor="end">250</text>
<text x="512.2" y="42.00" text-anchor="end">300</text>
<text x="526.00" y="311.5" text-anchor="middle">0</text>
<text x="657.25" y="311.5" text-anchor="middle">10</text>
<text x="788.50" y="311.5" text-anchor="middle">20</text>
</g>
<text x="654.5" y="332" font-family="'Liberation Sans', sans-serif" font-size="13.5" font-weight="bold" text-anchor="middle">VLPs (nM)</text>
<text transform="translate(483.5,161.8) rotate(-90)" font-family="'Liberation Sans', sans-serif" font-size="16" font-weight="bold" text-anchor="middle">Response (m&#186;)</text>
<circle cx="556.19" cy="272.75" r="3.2" fill="#000"/>
<circle cx="586.38" cy="252.83" r="3.2" fill="#000"/>
<circle cx="646.75" cy="164.33" r="3.2" fill="#000"/>
<circle cx="767.50" cy="80.08" r="3.2" fill="#000"/>
</svg>
</body></html>
